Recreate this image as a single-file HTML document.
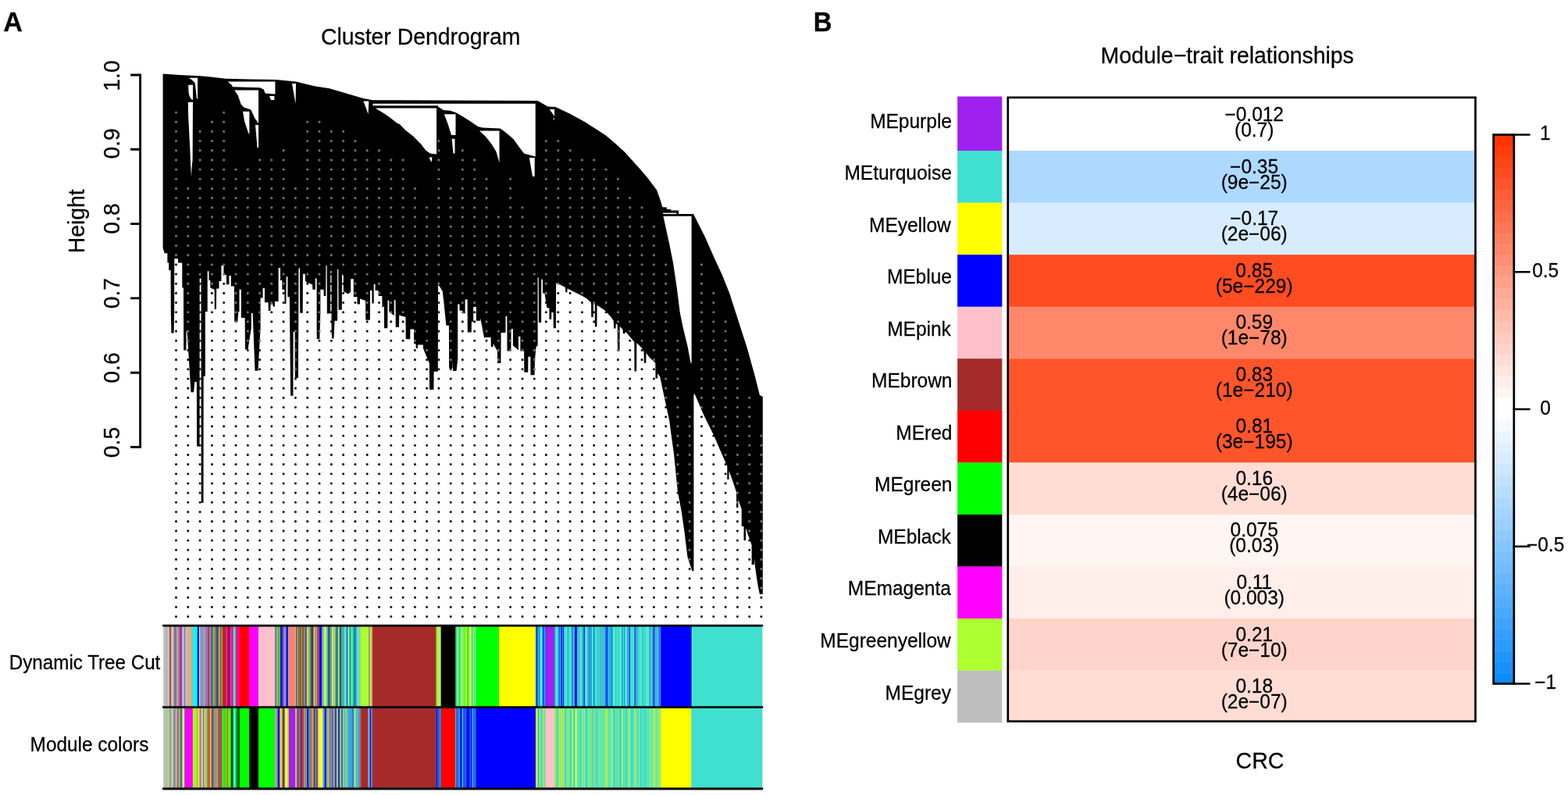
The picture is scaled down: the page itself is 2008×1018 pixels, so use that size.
<!DOCTYPE html>
<html><head><meta charset="utf-8"><title>WGCNA figure</title>
<style>html,body{margin:0;padding:0;background:#fff}svg{display:block}</style>
</head><body>
<svg width="2008" height="1018" viewBox="0 0 2008 1018" font-family='"Liberation Sans", Arial, Helvetica, sans-serif'>
<style>text{stroke:#000;stroke-width:0.25px;paint-order:stroke}</style>
<rect width="2008" height="1018" fill="#fff"/>
<text transform="translate(4.25 39.9) scale(0.975 1)" font-size="35" font-weight="bold">A</text>
<text transform="translate(410.88 57) scale(1 1.03)" font-size="28.4">Cluster Dendrogram</text>
<path d="M179.6 94.55V573.95M167.1 96H179.6M167.1 191.3H179.6M167.1 286.6H179.6M167.1 381.9H179.6M167.1 477.2H179.6M167.1 572.5H179.6" stroke="#000" stroke-width="2.9" fill="none" stroke-linecap="butt"/>
<text transform="translate(152.8 116.7) rotate(-90) scale(1 1.03)" font-size="28.3">1.0</text>
<text transform="translate(152.8 203.6) rotate(-90) scale(1 1.03)" font-size="28.3">0.9</text>
<text transform="translate(152.8 299.63) rotate(-90) scale(1 1.03)" font-size="28.3">0.8</text>
<text transform="translate(152.8 395.23) rotate(-90) scale(1 1.03)" font-size="28.3">0.7</text>
<text transform="translate(152.8 490.63) rotate(-90) scale(1 1.03)" font-size="28.3">0.6</text>
<text transform="translate(152.8 586.17) rotate(-90) scale(1 1.03)" font-size="28.3">0.5</text>
<text transform="translate(107.5 324.3) rotate(-90) scale(1 1.03)" font-size="28.4">Height</text>
<path d="M225.5 338.848h0M225.5 351.03h0M225.5 363.2h0M225.5 375.38h0M225.5 387.56h0M225.5 399.74h0M225.5 411.92h0M225.5 424.09h0M225.5 436.27h0M225.5 448.45h0M225.5 460.63h0M225.5 472.81h0M225.5 484.98h0M225.5 497.16h0M225.5 509.34h0M225.5 521.52h0M225.5 533.7h0M225.5 545.87h0M225.5 558.05h0M225.5 570.23h0M225.5 582.41h0M225.5 594.59h0M225.5 606.76h0M225.5 618.94h0M225.5 631.12h0M225.5 643.3h0M225.5 655.48h0M225.5 667.65h0M225.5 679.83h0M225.5 692.01h0M225.5 704.19h0M225.5 716.37h0M225.5 728.54h0M225.5 740.72h0M225.5 752.9h0M225.5 765.08h0M225.5 777.26h0M225.5 789.43h0M240.8 448.45h0M240.8 460.63h0M240.8 472.81h0M240.8 484.98h0M240.8 497.16h0M240.8 509.34h0M240.8 521.52h0M240.8 533.7h0M240.8 545.87h0M240.8 558.05h0M240.8 570.23h0M240.8 582.41h0M240.8 594.59h0M240.8 606.76h0M240.8 618.94h0M240.8 631.12h0M240.8 643.3h0M240.8 655.48h0M240.8 667.65h0M240.8 679.83h0M240.8 692.01h0M240.8 704.19h0M240.8 716.37h0M240.8 728.54h0M240.8 740.72h0M240.8 752.9h0M240.8 765.08h0M240.8 777.26h0M240.8 789.43h0M256.1 363.2h0M256.1 375.38h0M256.1 387.56h0M256.1 399.74h0M256.1 411.92h0M256.1 424.09h0M256.1 436.27h0M256.1 448.45h0M256.1 460.63h0M256.1 472.81h0M256.1 484.98h0M256.1 497.16h0M256.1 509.34h0M256.1 521.52h0M256.1 533.7h0M256.1 545.87h0M256.1 558.05h0M256.1 570.23h0M256.1 582.41h0M256.1 594.59h0M256.1 606.76h0M256.1 618.94h0M256.1 631.12h0M256.1 643.3h0M256.1 655.48h0M256.1 667.65h0M256.1 679.83h0M256.1 692.01h0M256.1 704.19h0M256.1 716.37h0M256.1 728.54h0M256.1 740.72h0M256.1 752.9h0M256.1 765.08h0M256.1 777.26h0M256.1 789.43h0M271.4 375.38h0M271.4 387.56h0M271.4 399.74h0M271.4 411.92h0M271.4 424.09h0M271.4 436.27h0M271.4 448.45h0M271.4 460.63h0M271.4 472.81h0M271.4 484.98h0M271.4 497.16h0M271.4 509.34h0M271.4 521.52h0M271.4 533.7h0M271.4 545.87h0M271.4 558.05h0M271.4 570.23h0M271.4 582.41h0M271.4 594.59h0M271.4 606.76h0M271.4 618.94h0M271.4 631.12h0M271.4 643.3h0M271.4 655.48h0M271.4 667.65h0M271.4 679.83h0M271.4 692.01h0M271.4 704.19h0M271.4 716.37h0M271.4 728.54h0M271.4 740.72h0M271.4 752.9h0M271.4 765.08h0M271.4 777.26h0M271.4 789.43h0M286.7 363.2h0M286.7 375.38h0M286.7 387.56h0M286.7 399.74h0M286.7 411.92h0M286.7 424.09h0M286.7 436.27h0M286.7 448.45h0M286.7 460.63h0M286.7 472.81h0M286.7 484.98h0M286.7 497.16h0M286.7 509.34h0M286.7 521.52h0M286.7 533.7h0M286.7 545.87h0M286.7 558.05h0M286.7 570.23h0M286.7 582.41h0M286.7 594.59h0M286.7 606.76h0M286.7 618.94h0M286.7 631.12h0M286.7 643.3h0M286.7 655.48h0M286.7 667.65h0M286.7 679.83h0M286.7 692.01h0M286.7 704.19h0M286.7 716.37h0M286.7 728.54h0M286.7 740.72h0M286.7 752.9h0M286.7 765.08h0M286.7 777.26h0M286.7 789.43h0M302 424.09h0M302 436.27h0M302 448.45h0M302 460.63h0M302 472.81h0M302 484.98h0M302 497.16h0M302 509.34h0M302 521.52h0M302 533.7h0M302 545.87h0M302 558.05h0M302 570.23h0M302 582.41h0M302 594.59h0M302 606.76h0M302 618.94h0M302 631.12h0M302 643.3h0M302 655.48h0M302 667.65h0M302 679.83h0M302 692.01h0M302 704.19h0M302 716.37h0M302 728.54h0M302 740.72h0M302 752.9h0M302 765.08h0M302 777.26h0M302 789.43h0M317.3 448.45h0M317.3 460.63h0M317.3 472.81h0M317.3 484.98h0M317.3 497.16h0M317.3 509.34h0M317.3 521.52h0M317.3 533.7h0M317.3 545.87h0M317.3 558.05h0M317.3 570.23h0M317.3 582.41h0M317.3 594.59h0M317.3 606.76h0M317.3 618.94h0M317.3 631.12h0M317.3 643.3h0M317.3 655.48h0M317.3 667.65h0M317.3 679.83h0M317.3 692.01h0M317.3 704.19h0M317.3 716.37h0M317.3 728.54h0M317.3 740.72h0M317.3 752.9h0M317.3 765.08h0M317.3 777.26h0M317.3 789.43h0M332.6 448.45h0M332.6 460.63h0M332.6 472.81h0M332.6 484.98h0M332.6 497.16h0M332.6 509.34h0M332.6 521.52h0M332.6 533.7h0M332.6 545.87h0M332.6 558.05h0M332.6 570.23h0M332.6 582.41h0M332.6 594.59h0M332.6 606.76h0M332.6 618.94h0M332.6 631.12h0M332.6 643.3h0M332.6 655.48h0M332.6 667.65h0M332.6 679.83h0M332.6 692.01h0M332.6 704.19h0M332.6 716.37h0M332.6 728.54h0M332.6 740.72h0M332.6 752.9h0M332.6 765.08h0M332.6 777.26h0M332.6 789.43h0M347.8 399.74h0M347.8 411.92h0M347.8 424.09h0M347.8 436.27h0M347.8 448.45h0M347.8 460.63h0M347.8 472.81h0M347.8 484.98h0M347.8 497.16h0M347.8 509.34h0M347.8 521.52h0M347.8 533.7h0M347.8 545.87h0M347.8 558.05h0M347.8 570.23h0M347.8 582.41h0M347.8 594.59h0M347.8 606.76h0M347.8 618.94h0M347.8 631.12h0M347.8 643.3h0M347.8 655.48h0M347.8 667.65h0M347.8 679.83h0M347.8 692.01h0M347.8 704.19h0M347.8 716.37h0M347.8 728.54h0M347.8 740.72h0M347.8 752.9h0M347.8 765.08h0M347.8 777.26h0M347.8 789.43h0M363.1 375.38h0M363.1 387.56h0M363.1 399.74h0M363.1 411.92h0M363.1 424.09h0M363.1 436.27h0M363.1 448.45h0M363.1 460.63h0M363.1 472.81h0M363.1 484.98h0M363.1 497.16h0M363.1 509.34h0M363.1 521.52h0M363.1 533.7h0M363.1 545.87h0M363.1 558.05h0M363.1 570.23h0M363.1 582.41h0M363.1 594.59h0M363.1 606.76h0M363.1 618.94h0M363.1 631.12h0M363.1 643.3h0M363.1 655.48h0M363.1 667.65h0M363.1 679.83h0M363.1 692.01h0M363.1 704.19h0M363.1 716.37h0M363.1 728.54h0M363.1 740.72h0M363.1 752.9h0M363.1 765.08h0M363.1 777.26h0M363.1 789.43h0M378.4 484.98h0M378.4 497.16h0M378.4 509.34h0M378.4 521.52h0M378.4 533.7h0M378.4 545.87h0M378.4 558.05h0M378.4 570.23h0M378.4 582.41h0M378.4 594.59h0M378.4 606.76h0M378.4 618.94h0M378.4 631.12h0M378.4 643.3h0M378.4 655.48h0M378.4 667.65h0M378.4 679.83h0M378.4 692.01h0M378.4 704.19h0M378.4 716.37h0M378.4 728.54h0M378.4 740.72h0M378.4 752.9h0M378.4 765.08h0M378.4 777.26h0M378.4 789.43h0M393.7 363.2h0M393.7 375.38h0M393.7 387.56h0M393.7 399.74h0M393.7 411.92h0M393.7 424.09h0M393.7 436.27h0M393.7 448.45h0M393.7 460.63h0M393.7 472.81h0M393.7 484.98h0M393.7 497.16h0M393.7 509.34h0M393.7 521.52h0M393.7 533.7h0M393.7 545.87h0M393.7 558.05h0M393.7 570.23h0M393.7 582.41h0M393.7 594.59h0M393.7 606.76h0M393.7 618.94h0M393.7 631.12h0M393.7 643.3h0M393.7 655.48h0M393.7 667.65h0M393.7 679.83h0M393.7 692.01h0M393.7 704.19h0M393.7 716.37h0M393.7 728.54h0M393.7 740.72h0M393.7 752.9h0M393.7 765.08h0M393.7 777.26h0M393.7 789.43h0M409 436.27h0M409 448.45h0M409 460.63h0M409 472.81h0M409 484.98h0M409 497.16h0M409 509.34h0M409 521.52h0M409 533.7h0M409 545.87h0M409 558.05h0M409 570.23h0M409 582.41h0M409 594.59h0M409 606.76h0M409 618.94h0M409 631.12h0M409 643.3h0M409 655.48h0M409 667.65h0M409 679.83h0M409 692.01h0M409 704.19h0M409 716.37h0M409 728.54h0M409 740.72h0M409 752.9h0M409 765.08h0M409 777.26h0M409 789.43h0M424.3 351.03h0M424.3 363.2h0M424.3 375.38h0M424.3 387.56h0M424.3 399.74h0M424.3 411.92h0M424.3 424.09h0M424.3 436.27h0M424.3 448.45h0M424.3 460.63h0M424.3 472.81h0M424.3 484.98h0M424.3 497.16h0M424.3 509.34h0M424.3 521.52h0M424.3 533.7h0M424.3 545.87h0M424.3 558.05h0M424.3 570.23h0M424.3 582.41h0M424.3 594.59h0M424.3 606.76h0M424.3 618.94h0M424.3 631.12h0M424.3 643.3h0M424.3 655.48h0M424.3 667.65h0M424.3 679.83h0M424.3 692.01h0M424.3 704.19h0M424.3 716.37h0M424.3 728.54h0M424.3 740.72h0M424.3 752.9h0M424.3 765.08h0M424.3 777.26h0M424.3 789.43h0M439.6 351.03h0M439.6 363.2h0M439.6 375.38h0M439.6 387.56h0M439.6 399.74h0M439.6 411.92h0M439.6 424.09h0M439.6 436.27h0M439.6 448.45h0M439.6 460.63h0M439.6 472.81h0M439.6 484.98h0M439.6 497.16h0M439.6 509.34h0M439.6 521.52h0M439.6 533.7h0M439.6 545.87h0M439.6 558.05h0M439.6 570.23h0M439.6 582.41h0M439.6 594.59h0M439.6 606.76h0M439.6 618.94h0M439.6 631.12h0M439.6 643.3h0M439.6 655.48h0M439.6 667.65h0M439.6 679.83h0M439.6 692.01h0M439.6 704.19h0M439.6 716.37h0M439.6 728.54h0M439.6 740.72h0M439.6 752.9h0M439.6 765.08h0M439.6 777.26h0M439.6 789.43h0M454.9 387.56h0M454.9 399.74h0M454.9 411.92h0M454.9 424.09h0M454.9 436.27h0M454.9 448.45h0M454.9 460.63h0M454.9 472.81h0M454.9 484.98h0M454.9 497.16h0M454.9 509.34h0M454.9 521.52h0M454.9 533.7h0M454.9 545.87h0M454.9 558.05h0M454.9 570.23h0M454.9 582.41h0M454.9 594.59h0M454.9 606.76h0M454.9 618.94h0M454.9 631.12h0M454.9 643.3h0M454.9 655.48h0M454.9 667.65h0M454.9 679.83h0M454.9 692.01h0M454.9 704.19h0M454.9 716.37h0M454.9 728.54h0M454.9 740.72h0M454.9 752.9h0M454.9 765.08h0M454.9 777.26h0M454.9 789.43h0M470.2 411.92h0M470.2 424.09h0M470.2 436.27h0M470.2 448.45h0M470.2 460.63h0M470.2 472.81h0M470.2 484.98h0M470.2 497.16h0M470.2 509.34h0M470.2 521.52h0M470.2 533.7h0M470.2 545.87h0M470.2 558.05h0M470.2 570.23h0M470.2 582.41h0M470.2 594.59h0M470.2 606.76h0M470.2 618.94h0M470.2 631.12h0M470.2 643.3h0M470.2 655.48h0M470.2 667.65h0M470.2 679.83h0M470.2 692.01h0M470.2 704.19h0M470.2 716.37h0M470.2 728.54h0M470.2 740.72h0M470.2 752.9h0M470.2 765.08h0M470.2 777.26h0M470.2 789.43h0M485.5 387.56h0M485.5 399.74h0M485.5 411.92h0M485.5 424.09h0M485.5 436.27h0M485.5 448.45h0M485.5 460.63h0M485.5 472.81h0M485.5 484.98h0M485.5 497.16h0M485.5 509.34h0M485.5 521.52h0M485.5 533.7h0M485.5 545.87h0M485.5 558.05h0M485.5 570.23h0M485.5 582.41h0M485.5 594.59h0M485.5 606.76h0M485.5 618.94h0M485.5 631.12h0M485.5 643.3h0M485.5 655.48h0M485.5 667.65h0M485.5 679.83h0M485.5 692.01h0M485.5 704.19h0M485.5 716.37h0M485.5 728.54h0M485.5 740.72h0M485.5 752.9h0M485.5 765.08h0M485.5 777.26h0M485.5 789.43h0M500.8 411.92h0M500.8 424.09h0M500.8 436.27h0M500.8 448.45h0M500.8 460.63h0M500.8 472.81h0M500.8 484.98h0M500.8 497.16h0M500.8 509.34h0M500.8 521.52h0M500.8 533.7h0M500.8 545.87h0M500.8 558.05h0M500.8 570.23h0M500.8 582.41h0M500.8 594.59h0M500.8 606.76h0M500.8 618.94h0M500.8 631.12h0M500.8 643.3h0M500.8 655.48h0M500.8 667.65h0M500.8 679.83h0M500.8 692.01h0M500.8 704.19h0M500.8 716.37h0M500.8 728.54h0M500.8 740.72h0M500.8 752.9h0M500.8 765.08h0M500.8 777.26h0M500.8 789.43h0M516.1 411.92h0M516.1 424.09h0M516.1 436.27h0M516.1 448.45h0M516.1 460.63h0M516.1 472.81h0M516.1 484.98h0M516.1 497.16h0M516.1 509.34h0M516.1 521.52h0M516.1 533.7h0M516.1 545.87h0M516.1 558.05h0M516.1 570.23h0M516.1 582.41h0M516.1 594.59h0M516.1 606.76h0M516.1 618.94h0M516.1 631.12h0M516.1 643.3h0M516.1 655.48h0M516.1 667.65h0M516.1 679.83h0M516.1 692.01h0M516.1 704.19h0M516.1 716.37h0M516.1 728.54h0M516.1 740.72h0M516.1 752.9h0M516.1 765.08h0M516.1 777.26h0M516.1 789.43h0M531.4 448.45h0M531.4 460.63h0M531.4 472.81h0M531.4 484.98h0M531.4 497.16h0M531.4 509.34h0M531.4 521.52h0M531.4 533.7h0M531.4 545.87h0M531.4 558.05h0M531.4 570.23h0M531.4 582.41h0M531.4 594.59h0M531.4 606.76h0M531.4 618.94h0M531.4 631.12h0M531.4 643.3h0M531.4 655.48h0M531.4 667.65h0M531.4 679.83h0M531.4 692.01h0M531.4 704.19h0M531.4 716.37h0M531.4 728.54h0M531.4 740.72h0M531.4 752.9h0M531.4 765.08h0M531.4 777.26h0M531.4 789.43h0M546.6 460.63h0M546.6 472.81h0M546.6 484.98h0M546.6 497.16h0M546.6 509.34h0M546.6 521.52h0M546.6 533.7h0M546.6 545.87h0M546.6 558.05h0M546.6 570.23h0M546.6 582.41h0M546.6 594.59h0M546.6 606.76h0M546.6 618.94h0M546.6 631.12h0M546.6 643.3h0M546.6 655.48h0M546.6 667.65h0M546.6 679.83h0M546.6 692.01h0M546.6 704.19h0M546.6 716.37h0M546.6 728.54h0M546.6 740.72h0M546.6 752.9h0M546.6 765.08h0M546.6 777.26h0M546.6 789.43h0M561.9 375.38h0M561.9 387.56h0M561.9 399.74h0M561.9 411.92h0M561.9 424.09h0M561.9 436.27h0M561.9 448.45h0M561.9 460.63h0M561.9 472.81h0M561.9 484.98h0M561.9 497.16h0M561.9 509.34h0M561.9 521.52h0M561.9 533.7h0M561.9 545.87h0M561.9 558.05h0M561.9 570.23h0M561.9 582.41h0M561.9 594.59h0M561.9 606.76h0M561.9 618.94h0M561.9 631.12h0M561.9 643.3h0M561.9 655.48h0M561.9 667.65h0M561.9 679.83h0M561.9 692.01h0M561.9 704.19h0M561.9 716.37h0M561.9 728.54h0M561.9 740.72h0M561.9 752.9h0M561.9 765.08h0M561.9 777.26h0M561.9 789.43h0M577.2 472.81h0M577.2 484.98h0M577.2 497.16h0M577.2 509.34h0M577.2 521.52h0M577.2 533.7h0M577.2 545.87h0M577.2 558.05h0M577.2 570.23h0M577.2 582.41h0M577.2 594.59h0M577.2 606.76h0M577.2 618.94h0M577.2 631.12h0M577.2 643.3h0M577.2 655.48h0M577.2 667.65h0M577.2 679.83h0M577.2 692.01h0M577.2 704.19h0M577.2 716.37h0M577.2 728.54h0M577.2 740.72h0M577.2 752.9h0M577.2 765.08h0M577.2 777.26h0M577.2 789.43h0M592.3 411.92h0M592.3 424.09h0M592.3 436.27h0M592.3 448.45h0M592.3 460.63h0M592.3 472.81h0M592.3 484.98h0M592.3 497.16h0M592.3 509.34h0M592.3 521.52h0M592.3 533.7h0M592.3 545.87h0M592.3 558.05h0M592.3 570.23h0M592.3 582.41h0M592.3 594.59h0M592.3 606.76h0M592.3 618.94h0M592.3 631.12h0M592.3 643.3h0M592.3 655.48h0M592.3 667.65h0M592.3 679.83h0M592.3 692.01h0M592.3 704.19h0M592.3 716.37h0M592.3 728.54h0M592.3 740.72h0M592.3 752.9h0M592.3 765.08h0M592.3 777.26h0M592.3 789.43h0M607.7 399.74h0M607.7 411.92h0M607.7 424.09h0M607.7 436.27h0M607.7 448.45h0M607.7 460.63h0M607.7 472.81h0M607.7 484.98h0M607.7 497.16h0M607.7 509.34h0M607.7 521.52h0M607.7 533.7h0M607.7 545.87h0M607.7 558.05h0M607.7 570.23h0M607.7 582.41h0M607.7 594.59h0M607.7 606.76h0M607.7 618.94h0M607.7 631.12h0M607.7 643.3h0M607.7 655.48h0M607.7 667.65h0M607.7 679.83h0M607.7 692.01h0M607.7 704.19h0M607.7 716.37h0M607.7 728.54h0M607.7 740.72h0M607.7 752.9h0M607.7 765.08h0M607.7 777.26h0M607.7 789.43h0M623 436.27h0M623 448.45h0M623 460.63h0M623 472.81h0M623 484.98h0M623 497.16h0M623 509.34h0M623 521.52h0M623 533.7h0M623 545.87h0M623 558.05h0M623 570.23h0M623 582.41h0M623 594.59h0M623 606.76h0M623 618.94h0M623 631.12h0M623 643.3h0M623 655.48h0M623 667.65h0M623 679.83h0M623 692.01h0M623 704.19h0M623 716.37h0M623 728.54h0M623 740.72h0M623 752.9h0M623 765.08h0M623 777.26h0M623 789.43h0M638.3 472.81h0M638.3 484.98h0M638.3 497.16h0M638.3 509.34h0M638.3 521.52h0M638.3 533.7h0M638.3 545.87h0M638.3 558.05h0M638.3 570.23h0M638.3 582.41h0M638.3 594.59h0M638.3 606.76h0M638.3 618.94h0M638.3 631.12h0M638.3 643.3h0M638.3 655.48h0M638.3 667.65h0M638.3 679.83h0M638.3 692.01h0M638.3 704.19h0M638.3 716.37h0M638.3 728.54h0M638.3 740.72h0M638.3 752.9h0M638.3 765.08h0M638.3 777.26h0M638.3 789.43h0M653.6 460.63h0M653.6 472.81h0M653.6 484.98h0M653.6 497.16h0M653.6 509.34h0M653.6 521.52h0M653.6 533.7h0M653.6 545.87h0M653.6 558.05h0M653.6 570.23h0M653.6 582.41h0M653.6 594.59h0M653.6 606.76h0M653.6 618.94h0M653.6 631.12h0M653.6 643.3h0M653.6 655.48h0M653.6 667.65h0M653.6 679.83h0M653.6 692.01h0M653.6 704.19h0M653.6 716.37h0M653.6 728.54h0M653.6 740.72h0M653.6 752.9h0M653.6 765.08h0M653.6 777.26h0M653.6 789.43h0M669 460.63h0M669 472.81h0M669 484.98h0M669 497.16h0M669 509.34h0M669 521.52h0M669 533.7h0M669 545.87h0M669 558.05h0M669 570.23h0M669 582.41h0M669 594.59h0M669 606.76h0M669 618.94h0M669 631.12h0M669 643.3h0M669 655.48h0M669 667.65h0M669 679.83h0M669 692.01h0M669 704.19h0M669 716.37h0M669 728.54h0M669 740.72h0M669 752.9h0M669 765.08h0M669 777.26h0M669 789.43h0M684.3 484.98h0M684.3 497.16h0M684.3 509.34h0M684.3 521.52h0M684.3 533.7h0M684.3 545.87h0M684.3 558.05h0M684.3 570.23h0M684.3 582.41h0M684.3 594.59h0M684.3 606.76h0M684.3 618.94h0M684.3 631.12h0M684.3 643.3h0M684.3 655.48h0M684.3 667.65h0M684.3 679.83h0M684.3 692.01h0M684.3 704.19h0M684.3 716.37h0M684.3 728.54h0M684.3 740.72h0M684.3 752.9h0M684.3 765.08h0M684.3 777.26h0M684.3 789.43h0M699.3 387.56h0M699.3 399.74h0M699.3 411.92h0M699.3 424.09h0M699.3 436.27h0M699.3 448.45h0M699.3 460.63h0M699.3 472.81h0M699.3 484.98h0M699.3 497.16h0M699.3 509.34h0M699.3 521.52h0M699.3 533.7h0M699.3 545.87h0M699.3 558.05h0M699.3 570.23h0M699.3 582.41h0M699.3 594.59h0M699.3 606.76h0M699.3 618.94h0M699.3 631.12h0M699.3 643.3h0M699.3 655.48h0M699.3 667.65h0M699.3 679.83h0M699.3 692.01h0M699.3 704.19h0M699.3 716.37h0M699.3 728.54h0M699.3 740.72h0M699.3 752.9h0M699.3 765.08h0M699.3 777.26h0M699.3 789.43h0M714.8 375.38h0M714.8 387.56h0M714.8 399.74h0M714.8 411.92h0M714.8 424.09h0M714.8 436.27h0M714.8 448.45h0M714.8 460.63h0M714.8 472.81h0M714.8 484.98h0M714.8 497.16h0M714.8 509.34h0M714.8 521.52h0M714.8 533.7h0M714.8 545.87h0M714.8 558.05h0M714.8 570.23h0M714.8 582.41h0M714.8 594.59h0M714.8 606.76h0M714.8 618.94h0M714.8 631.12h0M714.8 643.3h0M714.8 655.48h0M714.8 667.65h0M714.8 679.83h0M714.8 692.01h0M714.8 704.19h0M714.8 716.37h0M714.8 728.54h0M714.8 740.72h0M714.8 752.9h0M714.8 765.08h0M714.8 777.26h0M714.8 789.43h0M730.1 375.38h0M730.1 387.56h0M730.1 399.74h0M730.1 411.92h0M730.1 424.09h0M730.1 436.27h0M730.1 448.45h0M730.1 460.63h0M730.1 472.81h0M730.1 484.98h0M730.1 497.16h0M730.1 509.34h0M730.1 521.52h0M730.1 533.7h0M730.1 545.87h0M730.1 558.05h0M730.1 570.23h0M730.1 582.41h0M730.1 594.59h0M730.1 606.76h0M730.1 618.94h0M730.1 631.12h0M730.1 643.3h0M730.1 655.48h0M730.1 667.65h0M730.1 679.83h0M730.1 692.01h0M730.1 704.19h0M730.1 716.37h0M730.1 728.54h0M730.1 740.72h0M730.1 752.9h0M730.1 765.08h0M730.1 777.26h0M730.1 789.43h0M745.4 387.56h0M745.4 399.74h0M745.4 411.92h0M745.4 424.09h0M745.4 436.27h0M745.4 448.45h0M745.4 460.63h0M745.4 472.81h0M745.4 484.98h0M745.4 497.16h0M745.4 509.34h0M745.4 521.52h0M745.4 533.7h0M745.4 545.87h0M745.4 558.05h0M745.4 570.23h0M745.4 582.41h0M745.4 594.59h0M745.4 606.76h0M745.4 618.94h0M745.4 631.12h0M745.4 643.3h0M745.4 655.48h0M745.4 667.65h0M745.4 679.83h0M745.4 692.01h0M745.4 704.19h0M745.4 716.37h0M745.4 728.54h0M745.4 740.72h0M745.4 752.9h0M745.4 765.08h0M745.4 777.26h0M745.4 789.43h0M760.7 399.74h0M760.7 411.92h0M760.7 424.09h0M760.7 436.27h0M760.7 448.45h0M760.7 460.63h0M760.7 472.81h0M760.7 484.98h0M760.7 497.16h0M760.7 509.34h0M760.7 521.52h0M760.7 533.7h0M760.7 545.87h0M760.7 558.05h0M760.7 570.23h0M760.7 582.41h0M760.7 594.59h0M760.7 606.76h0M760.7 618.94h0M760.7 631.12h0M760.7 643.3h0M760.7 655.48h0M760.7 667.65h0M760.7 679.83h0M760.7 692.01h0M760.7 704.19h0M760.7 716.37h0M760.7 728.54h0M760.7 740.72h0M760.7 752.9h0M760.7 765.08h0M760.7 777.26h0M760.7 789.43h0M776.1 399.74h0M776.1 411.92h0M776.1 424.09h0M776.1 436.27h0M776.1 448.45h0M776.1 460.63h0M776.1 472.81h0M776.1 484.98h0M776.1 497.16h0M776.1 509.34h0M776.1 521.52h0M776.1 533.7h0M776.1 545.87h0M776.1 558.05h0M776.1 570.23h0M776.1 582.41h0M776.1 594.59h0M776.1 606.76h0M776.1 618.94h0M776.1 631.12h0M776.1 643.3h0M776.1 655.48h0M776.1 667.65h0M776.1 679.83h0M776.1 692.01h0M776.1 704.19h0M776.1 716.37h0M776.1 728.54h0M776.1 740.72h0M776.1 752.9h0M776.1 765.08h0M776.1 777.26h0M776.1 789.43h0M791.4 460.63h0M791.4 472.81h0M791.4 484.98h0M791.4 497.16h0M791.4 509.34h0M791.4 521.52h0M791.4 533.7h0M791.4 545.87h0M791.4 558.05h0M791.4 570.23h0M791.4 582.41h0M791.4 594.59h0M791.4 606.76h0M791.4 618.94h0M791.4 631.12h0M791.4 643.3h0M791.4 655.48h0M791.4 667.65h0M791.4 679.83h0M791.4 692.01h0M791.4 704.19h0M791.4 716.37h0M791.4 728.54h0M791.4 740.72h0M791.4 752.9h0M791.4 765.08h0M791.4 777.26h0M791.4 789.43h0M806.7 436.27h0M806.7 448.45h0M806.7 460.63h0M806.7 472.81h0M806.7 484.98h0M806.7 497.16h0M806.7 509.34h0M806.7 521.52h0M806.7 533.7h0M806.7 545.87h0M806.7 558.05h0M806.7 570.23h0M806.7 582.41h0M806.7 594.59h0M806.7 606.76h0M806.7 618.94h0M806.7 631.12h0M806.7 643.3h0M806.7 655.48h0M806.7 667.65h0M806.7 679.83h0M806.7 692.01h0M806.7 704.19h0M806.7 716.37h0M806.7 728.54h0M806.7 740.72h0M806.7 752.9h0M806.7 765.08h0M806.7 777.26h0M806.7 789.43h0M822 448.45h0M822 460.63h0M822 472.81h0M822 484.98h0M822 497.16h0M822 509.34h0M822 521.52h0M822 533.7h0M822 545.87h0M822 558.05h0M822 570.23h0M822 582.41h0M822 594.59h0M822 606.76h0M822 618.94h0M822 631.12h0M822 643.3h0M822 655.48h0M822 667.65h0M822 679.83h0M822 692.01h0M822 704.19h0M822 716.37h0M822 728.54h0M822 740.72h0M822 752.9h0M822 765.08h0M822 777.26h0M822 789.43h0M837.4 472.81h0M837.4 484.98h0M837.4 497.16h0M837.4 509.34h0M837.4 521.52h0M837.4 533.7h0M837.4 545.87h0M837.4 558.05h0M837.4 570.23h0M837.4 582.41h0M837.4 594.59h0M837.4 606.76h0M837.4 618.94h0M837.4 631.12h0M837.4 643.3h0M837.4 655.48h0M837.4 667.65h0M837.4 679.83h0M837.4 692.01h0M837.4 704.19h0M837.4 716.37h0M837.4 728.54h0M837.4 740.72h0M837.4 752.9h0M837.4 765.08h0M837.4 777.26h0M837.4 789.43h0M852.7 521.52h0M852.7 533.7h0M852.7 545.87h0M852.7 558.05h0M852.7 570.23h0M852.7 582.41h0M852.7 594.59h0M852.7 606.76h0M852.7 618.94h0M852.7 631.12h0M852.7 643.3h0M852.7 655.48h0M852.7 667.65h0M852.7 679.83h0M852.7 692.01h0M852.7 704.19h0M852.7 716.37h0M852.7 728.54h0M852.7 740.72h0M852.7 752.9h0M852.7 765.08h0M852.7 777.26h0M852.7 789.43h0M867.9 631.12h0M867.9 643.3h0M867.9 655.48h0M867.9 667.65h0M867.9 679.83h0M867.9 692.01h0M867.9 704.19h0M867.9 716.37h0M867.9 728.54h0M867.9 740.72h0M867.9 752.9h0M867.9 765.08h0M867.9 777.26h0M867.9 789.43h0M883.1 728.54h0M883.1 740.72h0M883.1 752.9h0M883.1 765.08h0M883.1 777.26h0M883.1 789.43h0M898.4 533.7h0M898.4 545.87h0M898.4 558.05h0M898.4 570.23h0M898.4 582.41h0M898.4 594.59h0M898.4 606.76h0M898.4 618.94h0M898.4 631.12h0M898.4 643.3h0M898.4 655.48h0M898.4 667.65h0M898.4 679.83h0M898.4 692.01h0M898.4 704.19h0M898.4 716.37h0M898.4 728.54h0M898.4 740.72h0M898.4 752.9h0M898.4 765.08h0M898.4 777.26h0M898.4 789.43h0M913.8 558.05h0M913.8 570.23h0M913.8 582.41h0M913.8 594.59h0M913.8 606.76h0M913.8 618.94h0M913.8 631.12h0M913.8 643.3h0M913.8 655.48h0M913.8 667.65h0M913.8 679.83h0M913.8 692.01h0M913.8 704.19h0M913.8 716.37h0M913.8 728.54h0M913.8 740.72h0M913.8 752.9h0M913.8 765.08h0M913.8 777.26h0M913.8 789.43h0M929.1 594.59h0M929.1 606.76h0M929.1 618.94h0M929.1 631.12h0M929.1 643.3h0M929.1 655.48h0M929.1 667.65h0M929.1 679.83h0M929.1 692.01h0M929.1 704.19h0M929.1 716.37h0M929.1 728.54h0M929.1 740.72h0M929.1 752.9h0M929.1 765.08h0M929.1 777.26h0M929.1 789.43h0M944.4 655.48h0M944.4 667.65h0M944.4 679.83h0M944.4 692.01h0M944.4 704.19h0M944.4 716.37h0M944.4 728.54h0M944.4 740.72h0M944.4 752.9h0M944.4 765.08h0M944.4 777.26h0M944.4 789.43h0M959.7 692.01h0M959.7 704.19h0M959.7 716.37h0M959.7 728.54h0M959.7 740.72h0M959.7 752.9h0M959.7 765.08h0M959.7 777.26h0M959.7 789.43h0M974.9 765.08h0M974.9 777.26h0M974.9 789.43h0" stroke="#111" stroke-width="3.1" stroke-linecap="round" fill="none"/>
<polygon points="208.6,317 208.6,94.6 230,96.1 256.2,97.3 270,98.4 289.4,100.8 320,101.4 353.4,102.1 379,104.5 402.5,110.3 422,113.3 445.7,120.2 465.4,126.1 477.2,128.2 688.6,128.9 701.6,136.5 711.4,137.1 729,145.3 748.8,156.1 764.5,166 776.3,173.8 788,183.7 799.8,194.5 817.5,214.1 829.3,227.8 841.1,243.6 846,257.3 848.3,265.3 853.8,265.5 853.8,267.9 859.3,267.9 859.3,269.6 869.1,269.6 869.1,274.1 888,274.1 902.9,303.4 913.9,328.6 924.9,352.2 934.3,375.8 945.3,410 957.2,447 967,482.5 972.9,506 976.8,508 976.8,760.7 972.9,760.7 971,752 969,740 967,725.4 965.9,715 965.9,723 962.6,723 962.6,698 958,685 955,676 955,692 952.5,692 952.5,674 949.7,674 949.7,652 945.4,640 945.4,650 943,650 943,630 938,615 933.5,603 933.5,614 931.3,614 931.3,597 929,592 923.8,580 914,557.2 902.2,533.6 889.4,504 888.4,506 888.4,731.3 886.4,731.3 880.5,713.6 876.6,682 872.7,654.7 867.8,629 862.9,580 861,567 857,537.5 851,510 845.2,482.5 842.2,478 842,484.5 839.5,484.5 839.3,464.8 832,458 827.5,452 827.3,464.8 824.8,464.8 824.6,451 822.2,446 815.3,439 815.1,475.4 812.5,475.4 812.3,438 802.5,426.3 800.6,425 800.4,427.3 797.8,427.3 797.6,422 793.7,418 793.5,449.8 790.9,449.8 790.7,416 788.8,414 788.6,420.4 786,420.4 785.8,411 782.9,406.6 775,397.8 764.6,390.7 764.4,418.4 761.9,418.4 761.7,389.5 760,388.5 759.8,406 757.2,406 757,387 755.2,386 751.7,382.5 745.8,378.9 736.3,374.2 726.6,369.5 726.4,374.2 724.2,374.2 724,368 715.1,363.6 712.1,362.4 711.9,420.2 708.8,420.2 708.6,400.1 706.3,400.1 706.1,409 703.5,409 703.3,394.2 700.4,394.2 697.4,375.4 695,375.4 695,357.7 693.3,357.7 693.1,413.1 689.9,413.1 689.7,355.3 688.6,355.3 688.6,442.6 686.6,444 685,460 684.5,480.3 679.5,480.3 679.3,456.7 676.4,456.7 676.2,476.7 671.3,476.7 671.1,449.6 666.4,449.6 666.4,430.8 664,430.8 664,448.4 656.9,442.5 656.9,421.3 654.6,421.3 654.4,449.6 649.5,449.6 649.3,404.8 647.5,404.8 647.5,426 641.6,426 641.4,465 637.1,465 636.9,449.6 631.6,440 631.4,444.3 628.8,444.3 628.6,432 620.4,432 620.4,434.3 615.1,407 615.1,410.7 609.8,410.7 609.8,393 606.2,393 606.2,411.9 603.9,411.9 603.7,425.4 598.8,425.4 598.6,383.6 595.6,383.6 595.6,401.3 592.1,401.3 592.1,397.7 588.5,397.7 588.5,389.5 586.2,389.5 586.2,460 584.5,475 580.2,475 579.8,460 579.6,471.8 575.1,471.8 574.9,416.7 571.4,416.7 570.2,404.9 568.4,387.2 566.7,373 563.1,367.1 561,364.8 560.8,475.7 555.6,475.7 555.4,499 550,499 549.8,465.3 541.9,446 541.9,441.4 535,441.4 534.9,446.1 532.7,446.1 532.5,440.2 530.1,440.2 530.1,421.4 525.4,421.4 525.2,434.3 519.7,434.3 519.5,406 511.2,403.7 511,419 506.7,419 506.5,384.2 504.7,384.2 504.7,404.3 498.3,399 498.3,384.8 496.5,384.8 496.3,420.2 492,420.2 491.8,391.9 489.5,394 489.3,379 484.6,379 484.6,372 480.5,372 480.5,363.7 478.7,363.7 478.7,388.4 476.4,388.4 476.4,372 474,372 473.8,409.7 468.3,409.7 468.1,385 461,382.5 461,389.6 457.5,389.6 457.5,380.2 452.8,380.2 452.8,357.2 449.2,357.2 449.2,373 447,376 444.5,376 444,375.5 439.8,373 439.8,350 438,350 437.8,396.7 433.5,396.7 433.3,344.8 432.1,344.8 432.1,410.8 428.5,410.8 427.5,433.6 425,433.6 424.5,420 424.5,347 423.3,347 423.1,401.4 418.8,401.4 418.6,340 417.4,340 417.2,379 414.7,379 414.5,370.8 410.3,370.8 410.3,400 409.3,434.2 405.8,434.2 405.6,420 405.6,356.6 403.8,356.6 403.8,370.8 400.3,370.8 400,364.3 392,361.3 392,360 390.8,360 390.8,350.7 387.9,350.7 387.7,400.8 384.2,400.8 384,343.6 382.5,343.6 382.3,400 381.9,484.1 377.8,484.1 377.6,425 375.6,425 375.4,506.8 372.1,506.8 371.5,450 370.8,380.2 368.4,380.2 368.4,354.2 366.6,354.2 366.4,389 364.5,389 364.3,370.8 361.3,370.8 361.3,359 359,359 359,343 356.6,343 356.6,386 351.9,386 351.9,392.6 349.5,392.6 349.5,389.6 346.6,389.6 346.4,397.9 343.8,397.9 343.6,387.3 338.9,387.3 338.9,369 336.6,369 336.6,381.4 333.6,381.4 333.6,420 330.5,474.8 326.5,474.8 323.6,401 321.8,401 321.8,420 317.5,447.4 314,447.4 313.6,407 308.8,407 308.8,370.8 306.5,370.8 306.5,399 305.3,399 304.3,412 300.2,412 299.9,366.6 295.8,366.6 295.8,353 293.4,353 293.4,364.3 289.9,364.3 289.9,351.9 286.4,351.9 286.4,340 283.4,340 283.4,360.1 280.5,360.1 280.5,369.6 277.2,369.6 276.9,396.1 274.8,396.1 274.6,370.8 269.3,368.4 269.3,359 267.5,359 267.5,347.2 265.7,347.2 265.7,399 262.8,399 262.8,481.7 260.7,481.7 260.5,644 257.7,644 257.5,356.6 255.7,356.6 255.6,571.6 252.1,571.6 251.9,489 249.3,489 248.1,502.3 244.5,502.3 239.6,424 238.6,424 238.4,448.4 235.2,448.4 235,368.4 233.3,368.4 233.3,336.6 228,336.6 228,331.2 223.3,331.2 223.2,400 222.6,426.4 219.4,426.4 218.8,400 218.6,346 216.2,346 216.2,336.6 214.4,336.6 214.4,324.2 210.3,324.2 210.3,322.4 208.6,317.7" fill="#000"/>
<path d="M225.5 144h0M225.5 156.18h0M225.5 168.36h0M225.5 180.53h0M225.5 192.71h0M225.5 204.89h0M225.5 217.07h0M225.5 229.25h0M225.5 241.42h0M225.5 253.6h0M225.5 265.78h0M225.5 277.96h0M225.5 290.14h0M225.5 302.31h0M225.5 314.49h0M225.5 326.67h0M240.8 241.42h0M240.8 253.6h0M240.8 265.78h0M240.8 277.96h0M240.8 290.14h0M240.8 302.31h0M240.8 314.49h0M240.8 326.67h0M240.8 338.85h0M240.8 351.03h0M240.8 363.2h0M240.8 375.38h0M240.8 387.56h0M240.8 399.74h0M240.8 411.92h0M240.8 424.09h0M240.8 436.27h0M256.1 168.36h0M256.1 180.53h0M256.1 192.71h0M256.1 204.89h0M256.1 217.07h0M256.1 229.25h0M256.1 241.42h0M256.1 253.6h0M256.1 265.78h0M256.1 277.96h0M256.1 290.14h0M256.1 302.31h0M256.1 314.49h0M256.1 326.67h0M256.1 338.85h0M256.1 351.03h0M271.4 156.18h0M271.4 168.36h0M271.4 180.53h0M271.4 192.71h0M271.4 204.89h0M271.4 217.07h0M271.4 229.25h0M271.4 241.42h0M271.4 253.6h0M271.4 265.78h0M271.4 277.96h0M271.4 290.14h0M271.4 302.31h0M271.4 314.49h0M271.4 326.67h0M271.4 338.85h0M271.4 351.03h0M271.4 363.2h0M286.7 144h0M286.7 156.18h0M286.7 168.36h0M286.7 180.53h0M286.7 192.71h0M286.7 204.89h0M286.7 217.07h0M286.7 229.25h0M286.7 241.42h0M286.7 253.6h0M286.7 265.78h0M286.7 277.96h0M286.7 290.14h0M286.7 302.31h0M286.7 314.49h0M286.7 326.67h0M286.7 338.85h0M286.7 351.03h0M302 217.07h0M302 229.25h0M302 241.42h0M302 253.6h0M302 265.78h0M302 277.96h0M302 290.14h0M302 302.31h0M302 314.49h0M302 326.67h0M302 338.85h0M302 351.03h0M302 363.2h0M302 375.38h0M302 387.56h0M302 399.74h0M302 411.92h0M317.3 217.07h0M317.3 229.25h0M317.3 241.42h0M317.3 253.6h0M317.3 265.78h0M317.3 277.96h0M317.3 290.14h0M317.3 302.31h0M317.3 314.49h0M317.3 326.67h0M317.3 338.85h0M317.3 351.03h0M317.3 363.2h0M317.3 375.38h0M317.3 387.56h0M317.3 399.74h0M317.3 411.92h0M317.3 424.09h0M317.3 436.27h0M332.6 204.89h0M332.6 217.07h0M332.6 229.25h0M332.6 241.42h0M332.6 253.6h0M332.6 265.78h0M332.6 277.96h0M332.6 290.14h0M332.6 302.31h0M332.6 314.49h0M332.6 326.67h0M332.6 338.85h0M332.6 351.03h0M332.6 363.2h0M332.6 375.38h0M332.6 387.56h0M332.6 399.74h0M332.6 411.92h0M332.6 424.09h0M332.6 436.27h0M347.8 204.89h0M347.8 217.07h0M347.8 229.25h0M347.8 241.42h0M347.8 253.6h0M347.8 265.78h0M347.8 277.96h0M347.8 290.14h0M347.8 302.31h0M347.8 314.49h0M347.8 326.67h0M347.8 338.85h0M347.8 351.03h0M347.8 363.2h0M347.8 375.38h0M347.8 387.56h0M363.1 192.71h0M363.1 204.89h0M363.1 217.07h0M363.1 229.25h0M363.1 241.42h0M363.1 253.6h0M363.1 265.78h0M363.1 277.96h0M363.1 290.14h0M363.1 302.31h0M363.1 314.49h0M363.1 326.67h0M363.1 338.85h0M363.1 351.03h0M363.1 363.2h0M378.4 241.42h0M378.4 253.6h0M378.4 265.78h0M378.4 277.96h0M378.4 290.14h0M378.4 302.31h0M378.4 314.49h0M378.4 326.67h0M378.4 338.85h0M378.4 351.03h0M378.4 363.2h0M378.4 375.38h0M378.4 387.56h0M378.4 399.74h0M378.4 411.92h0M378.4 424.09h0M378.4 436.27h0M378.4 448.45h0M378.4 460.63h0M378.4 472.81h0M393.7 156.18h0M393.7 168.36h0M393.7 180.53h0M393.7 192.71h0M393.7 204.89h0M393.7 217.07h0M393.7 229.25h0M393.7 241.42h0M393.7 253.6h0M393.7 265.78h0M393.7 277.96h0M393.7 290.14h0M393.7 302.31h0M393.7 314.49h0M393.7 326.67h0M393.7 338.85h0M393.7 351.03h0M409 156.18h0M409 168.36h0M409 180.53h0M409 192.71h0M409 204.89h0M409 217.07h0M409 229.25h0M409 241.42h0M409 253.6h0M409 265.78h0M409 277.96h0M409 290.14h0M409 302.31h0M409 314.49h0M409 326.67h0M409 338.85h0M409 351.03h0M409 363.2h0M409 375.38h0M409 387.56h0M409 399.74h0M409 411.92h0M409 424.09h0M424.3 168.36h0M424.3 180.53h0M424.3 192.71h0M424.3 204.89h0M424.3 217.07h0M424.3 229.25h0M424.3 241.42h0M424.3 253.6h0M424.3 265.78h0M424.3 277.96h0M424.3 290.14h0M424.3 302.31h0M424.3 314.49h0M424.3 326.67h0M424.3 338.85h0M439.6 168.36h0M439.6 180.53h0M439.6 192.71h0M439.6 204.89h0M439.6 217.07h0M439.6 229.25h0M439.6 241.42h0M439.6 253.6h0M439.6 265.78h0M439.6 277.96h0M439.6 290.14h0M439.6 302.31h0M439.6 314.49h0M439.6 326.67h0M439.6 338.85h0M454.9 180.53h0M454.9 192.71h0M454.9 204.89h0M454.9 217.07h0M454.9 229.25h0M454.9 241.42h0M454.9 253.6h0M454.9 265.78h0M454.9 277.96h0M454.9 290.14h0M454.9 302.31h0M454.9 314.49h0M454.9 326.67h0M454.9 338.85h0M454.9 351.03h0M454.9 363.2h0M454.9 375.38h0M470.2 192.71h0M470.2 204.89h0M470.2 217.07h0M470.2 229.25h0M470.2 241.42h0M470.2 253.6h0M470.2 265.78h0M470.2 277.96h0M470.2 290.14h0M470.2 302.31h0M470.2 314.49h0M470.2 326.67h0M470.2 338.85h0M470.2 351.03h0M470.2 363.2h0M470.2 375.38h0M470.2 387.56h0M470.2 399.74h0M485.5 192.71h0M485.5 204.89h0M485.5 217.07h0M485.5 229.25h0M485.5 241.42h0M485.5 253.6h0M485.5 265.78h0M485.5 277.96h0M485.5 290.14h0M485.5 302.31h0M485.5 314.49h0M485.5 326.67h0M485.5 338.85h0M485.5 351.03h0M485.5 363.2h0M485.5 375.38h0M500.8 204.89h0M500.8 217.07h0M500.8 229.25h0M500.8 241.42h0M500.8 253.6h0M500.8 265.78h0M500.8 277.96h0M500.8 290.14h0M500.8 302.31h0M500.8 314.49h0M500.8 326.67h0M500.8 338.85h0M500.8 351.03h0M500.8 363.2h0M500.8 375.38h0M500.8 387.56h0M500.8 399.74h0M516.1 204.89h0M516.1 217.07h0M516.1 229.25h0M516.1 241.42h0M516.1 253.6h0M516.1 265.78h0M516.1 277.96h0M516.1 290.14h0M516.1 302.31h0M516.1 314.49h0M516.1 326.67h0M516.1 338.85h0M516.1 351.03h0M516.1 363.2h0M516.1 375.38h0M516.1 387.56h0M516.1 399.74h0M531.4 241.42h0M531.4 253.6h0M531.4 265.78h0M531.4 277.96h0M531.4 290.14h0M531.4 302.31h0M531.4 314.49h0M531.4 326.67h0M531.4 338.85h0M531.4 351.03h0M531.4 363.2h0M531.4 375.38h0M531.4 387.56h0M531.4 399.74h0M531.4 411.92h0M531.4 424.09h0M531.4 436.27h0M546.6 265.78h0M546.6 277.96h0M546.6 290.14h0M546.6 302.31h0M546.6 314.49h0M546.6 326.67h0M546.6 338.85h0M546.6 351.03h0M546.6 363.2h0M546.6 375.38h0M546.6 387.56h0M546.6 399.74h0M546.6 411.92h0M546.6 424.09h0M546.6 436.27h0M546.6 448.45h0M561.9 180.53h0M561.9 192.71h0M561.9 204.89h0M561.9 217.07h0M561.9 229.25h0M561.9 241.42h0M561.9 253.6h0M561.9 265.78h0M561.9 277.96h0M561.9 290.14h0M561.9 302.31h0M561.9 314.49h0M561.9 326.67h0M561.9 338.85h0M561.9 351.03h0M561.9 363.2h0M577.2 241.42h0M577.2 253.6h0M577.2 265.78h0M577.2 277.96h0M577.2 290.14h0M577.2 302.31h0M577.2 314.49h0M577.2 326.67h0M577.2 338.85h0M577.2 351.03h0M577.2 363.2h0M577.2 375.38h0M577.2 387.56h0M577.2 399.74h0M577.2 411.92h0M577.2 424.09h0M577.2 436.27h0M577.2 448.45h0M577.2 460.63h0M592.3 192.71h0M592.3 204.89h0M592.3 217.07h0M592.3 229.25h0M592.3 241.42h0M592.3 253.6h0M592.3 265.78h0M592.3 277.96h0M592.3 290.14h0M592.3 302.31h0M592.3 314.49h0M592.3 326.67h0M592.3 338.85h0M592.3 351.03h0M592.3 363.2h0M592.3 375.38h0M592.3 387.56h0M592.3 399.74h0M607.7 204.89h0M607.7 217.07h0M607.7 229.25h0M607.7 241.42h0M607.7 253.6h0M607.7 265.78h0M607.7 277.96h0M607.7 290.14h0M607.7 302.31h0M607.7 314.49h0M607.7 326.67h0M607.7 338.85h0M607.7 351.03h0M607.7 363.2h0M607.7 375.38h0M607.7 387.56h0M623 229.25h0M623 241.42h0M623 253.6h0M623 265.78h0M623 277.96h0M623 290.14h0M623 302.31h0M623 314.49h0M623 326.67h0M623 338.85h0M623 351.03h0M623 363.2h0M623 375.38h0M623 387.56h0M623 399.74h0M623 411.92h0M623 424.09h0M638.3 277.96h0M638.3 290.14h0M638.3 302.31h0M638.3 314.49h0M638.3 326.67h0M638.3 338.85h0M638.3 351.03h0M638.3 363.2h0M638.3 375.38h0M638.3 387.56h0M638.3 399.74h0M638.3 411.92h0M638.3 424.09h0M638.3 436.27h0M638.3 448.45h0M638.3 460.63h0M653.6 229.25h0M653.6 241.42h0M653.6 253.6h0M653.6 265.78h0M653.6 277.96h0M653.6 290.14h0M653.6 302.31h0M653.6 314.49h0M653.6 326.67h0M653.6 338.85h0M653.6 351.03h0M653.6 363.2h0M653.6 375.38h0M653.6 387.56h0M653.6 399.74h0M653.6 411.92h0M653.6 424.09h0M653.6 436.27h0M653.6 448.45h0M669 265.78h0M669 277.96h0M669 290.14h0M669 302.31h0M669 314.49h0M669 326.67h0M669 338.85h0M669 351.03h0M669 363.2h0M669 375.38h0M669 387.56h0M669 399.74h0M669 411.92h0M669 424.09h0M669 436.27h0M669 448.45h0M684.3 290.14h0M684.3 302.31h0M684.3 314.49h0M684.3 326.67h0M684.3 338.85h0M684.3 351.03h0M684.3 363.2h0M684.3 375.38h0M684.3 387.56h0M684.3 399.74h0M684.3 411.92h0M684.3 424.09h0M684.3 436.27h0M684.3 448.45h0M684.3 460.63h0M684.3 472.81h0M699.3 180.53h0M699.3 192.71h0M699.3 204.89h0M699.3 217.07h0M699.3 229.25h0M699.3 241.42h0M699.3 253.6h0M699.3 265.78h0M699.3 277.96h0M699.3 290.14h0M699.3 302.31h0M699.3 314.49h0M699.3 326.67h0M699.3 338.85h0M699.3 351.03h0M699.3 363.2h0M699.3 375.38h0M714.8 180.53h0M714.8 192.71h0M714.8 204.89h0M714.8 217.07h0M714.8 229.25h0M714.8 241.42h0M714.8 253.6h0M714.8 265.78h0M714.8 277.96h0M714.8 290.14h0M714.8 302.31h0M714.8 314.49h0M714.8 326.67h0M714.8 338.85h0M714.8 351.03h0M714.8 363.2h0M730.1 192.71h0M730.1 204.89h0M730.1 217.07h0M730.1 229.25h0M730.1 241.42h0M730.1 253.6h0M730.1 265.78h0M730.1 277.96h0M730.1 290.14h0M730.1 302.31h0M730.1 314.49h0M730.1 326.67h0M730.1 338.85h0M730.1 351.03h0M730.1 363.2h0M745.4 204.89h0M745.4 217.07h0M745.4 229.25h0M745.4 241.42h0M745.4 253.6h0M745.4 265.78h0M745.4 277.96h0M745.4 290.14h0M745.4 302.31h0M745.4 314.49h0M745.4 326.67h0M745.4 338.85h0M745.4 351.03h0M745.4 363.2h0M745.4 375.38h0M760.7 204.89h0M760.7 217.07h0M760.7 229.25h0M760.7 241.42h0M760.7 253.6h0M760.7 265.78h0M760.7 277.96h0M760.7 290.14h0M760.7 302.31h0M760.7 314.49h0M760.7 326.67h0M760.7 338.85h0M760.7 351.03h0M760.7 363.2h0M760.7 375.38h0M760.7 387.56h0M776.1 217.07h0M776.1 229.25h0M776.1 241.42h0M776.1 253.6h0M776.1 265.78h0M776.1 277.96h0M776.1 290.14h0M776.1 302.31h0M776.1 314.49h0M776.1 326.67h0M776.1 338.85h0M776.1 351.03h0M776.1 363.2h0M776.1 375.38h0M776.1 387.56h0M791.4 229.25h0M791.4 241.42h0M791.4 253.6h0M791.4 265.78h0M791.4 277.96h0M791.4 290.14h0M791.4 302.31h0M791.4 314.49h0M791.4 326.67h0M791.4 338.85h0M791.4 351.03h0M791.4 363.2h0M791.4 375.38h0M791.4 387.56h0M791.4 399.74h0M791.4 411.92h0M791.4 424.09h0M791.4 436.27h0M791.4 448.45h0M806.7 253.6h0M806.7 265.78h0M806.7 277.96h0M806.7 290.14h0M806.7 302.31h0M806.7 314.49h0M806.7 326.67h0M806.7 338.85h0M806.7 351.03h0M806.7 363.2h0M806.7 375.38h0M806.7 387.56h0M806.7 399.74h0M806.7 411.92h0M806.7 424.09h0M822 265.78h0M822 277.96h0M822 290.14h0M822 302.31h0M822 314.49h0M822 326.67h0M822 338.85h0M822 351.03h0M822 363.2h0M822 375.38h0M822 387.56h0M822 399.74h0M822 411.92h0M822 424.09h0M822 436.27h0M837.4 290.14h0M837.4 302.31h0M837.4 314.49h0M837.4 326.67h0M837.4 338.85h0M837.4 351.03h0M837.4 363.2h0M837.4 375.38h0M837.4 387.56h0M837.4 399.74h0M837.4 411.92h0M837.4 424.09h0M837.4 436.27h0M837.4 448.45h0M837.4 460.63h0M852.7 338.85h0M852.7 351.03h0M852.7 363.2h0M852.7 375.38h0M852.7 387.56h0M852.7 399.74h0M852.7 411.92h0M852.7 424.09h0M852.7 436.27h0M852.7 448.45h0M852.7 460.63h0M852.7 472.81h0M852.7 484.98h0M852.7 497.16h0M852.7 509.34h0M867.9 436.27h0M867.9 448.45h0M867.9 460.63h0M867.9 472.81h0M867.9 484.98h0M867.9 497.16h0M867.9 509.34h0M867.9 521.52h0M867.9 533.7h0M867.9 545.87h0M867.9 558.05h0M867.9 570.23h0M867.9 582.41h0M867.9 594.59h0M867.9 606.76h0M867.9 618.94h0M883.1 533.7h0M883.1 545.87h0M883.1 558.05h0M883.1 570.23h0M883.1 582.41h0M883.1 594.59h0M883.1 606.76h0M883.1 618.94h0M883.1 631.12h0M883.1 643.3h0M883.1 655.48h0M883.1 667.65h0M883.1 679.83h0M883.1 692.01h0M883.1 704.19h0M883.1 716.37h0M898.4 338.85h0M898.4 351.03h0M898.4 363.2h0M898.4 375.38h0M898.4 387.56h0M898.4 399.74h0M898.4 411.92h0M898.4 424.09h0M898.4 436.27h0M898.4 448.45h0M898.4 460.63h0M898.4 472.81h0M898.4 484.98h0M898.4 497.16h0M898.4 509.34h0M898.4 521.52h0M913.8 375.38h0M913.8 387.56h0M913.8 399.74h0M913.8 411.92h0M913.8 424.09h0M913.8 436.27h0M913.8 448.45h0M913.8 460.63h0M913.8 472.81h0M913.8 484.98h0M913.8 497.16h0M913.8 509.34h0M913.8 521.52h0M913.8 533.7h0M913.8 545.87h0M929.1 411.92h0M929.1 424.09h0M929.1 436.27h0M929.1 448.45h0M929.1 460.63h0M929.1 472.81h0M929.1 484.98h0M929.1 497.16h0M929.1 509.34h0M929.1 521.52h0M929.1 533.7h0M929.1 545.87h0M929.1 558.05h0M929.1 570.23h0M929.1 582.41h0M944.4 460.63h0M944.4 472.81h0M944.4 484.98h0M944.4 497.16h0M944.4 509.34h0M944.4 521.52h0M944.4 533.7h0M944.4 545.87h0M944.4 558.05h0M944.4 570.23h0M944.4 582.41h0M944.4 594.59h0M944.4 606.76h0M944.4 618.94h0M944.4 631.12h0M944.4 643.3h0M959.7 509.34h0M959.7 521.52h0M959.7 533.7h0M959.7 545.87h0M959.7 558.05h0M959.7 570.23h0M959.7 582.41h0M959.7 594.59h0M959.7 606.76h0M959.7 618.94h0M959.7 631.12h0M959.7 643.3h0M959.7 655.48h0M959.7 667.65h0M959.7 679.83h0M974.9 558.05h0M974.9 570.23h0M974.9 582.41h0M974.9 594.59h0M974.9 606.76h0M974.9 618.94h0M974.9 631.12h0M974.9 643.3h0M974.9 655.48h0M974.9 667.65h0M974.9 679.83h0M974.9 692.01h0M974.9 704.19h0M974.9 716.37h0M974.9 728.54h0M974.9 740.72h0M974.9 752.9h0" stroke="#717171" stroke-width="3.2" stroke-linecap="round" fill="none"/>
<polygon points="242.8,99.8 253.1,99.8 253.1,126.4 252,126.4 249.7,106.2 244.7,101.3 242.8,101.3" fill="#fff"/>
<polygon points="241.3,108.7 247,108.7 247,127.8 245.6,127.8 243,124 241.8,120 241.3,114" fill="#fff"/>
<polygon points="240.8,130.8 247,130.8 246.6,205 245.6,215 245,227 244.2,212 243.3,190 241.2,150" fill="#fff"/>
<polygon points="291.5,104.5 352.4,104.5 352.4,120.4 339.6,119.4 337.7,114.5 333,112.3 298,111.2 297,109.3 292,104.8" fill="#fff"/>
<polygon points="300,115.6 331,115.6 331,158 326.4,151.4 321.3,140.6 312.4,137.4 308.6,133.5 304.7,122 300.5,116" fill="#fff"/>
<polygon points="311,142.8 319.4,142.8 319.4,172 318,170 313,155" fill="#fff"/>
<polygon points="327,160 331,160 331,189 329.5,189" fill="#fff"/>
<polygon points="345,123 351.4,123 351.4,128 347,128" fill="#fff"/>
<polygon points="374,107 379,107 378.5,133" fill="#fff"/>
<polygon points="465.4,129.5 472.3,129.5 471.5,146" fill="#fff"/>
<polygon points="477.5,132.7 561,132.7 561,135.2 477.5,135.2" fill="#fff"/>
<polygon points="481,138.6 559,138.6 559,197.4 551,196.4 545.2,192.5 539.3,184.7 529.5,174.8 519.6,167 511.8,159 508.6,157.7 500,151 493,146 483,140" fill="#fff"/>
<polygon points="549.5,201.5 553.5,201.5 552.5,208" fill="#fff"/>
<polygon points="561,132.7 685.7,132.7 685.7,200.5 671,196.4 665,188.6 657.2,177.8 649.3,171 641.5,165 640.5,164.6 617.9,163.4 612,162 602.2,155.2 594.3,150.3 584.5,144.4 576.6,141.8 567.8,141 561,136.5" fill="#fff"/>
<polygon points="614,167.5 639.5,167.5 639.5,208.2 635.6,194.5 629.7,184.7 621.8,174.8" fill="#fff"/>
<polygon points="568.8,146.3 583.5,146.3 583.5,172.9 578,172.9 574,160" fill="#fff"/>
<polygon points="578.6,177.8 582.5,177.8 582.5,196.4 580.5,196.4" fill="#fff"/>
<polygon points="677.8,202 684.7,202 684.7,226 682,226" fill="#fff"/>
<polygon points="703.8,139.9 710.1,139.9 710,148.2 709.5,148.2" fill="#fff"/>
<polygon points="708.3,151.2 709.9,151.2 709.4,154.6" fill="#fff"/>
<polygon points="849.4,276.8 885.6,276.8 885.6,465 884.5,464.8 880.5,443.2 874.7,419.6 870.7,400 866.7,368 862,336.5 857.3,312.9" fill="#fff"/>
<polygon points="849.2,272.6 866.3,272.6 866.3,274.1 849.2,274.1" fill="#fff"/>
<rect x="209.2" y="801.1" width="4.12" height="104.5" fill="#bebebe"/>
<rect x="212.97" y="801.1" width="1.6" height="104.5" fill="#a8a8a8"/>
<rect x="214.21" y="801.1" width="2.34" height="104.5" fill="#b8c8c8"/>
<rect x="216.21" y="801.1" width="1.1" height="104.5" fill="#e0b0b0"/>
<rect x="216.95" y="801.1" width="2.34" height="104.5" fill="#b04848"/>
<rect x="218.94" y="801.1" width="1.35" height="104.5" fill="#e0a0b0"/>
<rect x="219.94" y="801.1" width="2.34" height="104.5" fill="#c0c8d0"/>
<rect x="221.93" y="801.1" width="0.85" height="104.5" fill="#90c090"/>
<rect x="222.43" y="801.1" width="1.35" height="104.5" fill="#c08050"/>
<rect x="223.43" y="801.1" width="1.84" height="104.5" fill="#8060a0"/>
<rect x="224.92" y="801.1" width="1.35" height="104.5" fill="#7080a0"/>
<rect x="225.92" y="801.1" width="1.35" height="104.5" fill="#e080b0"/>
<rect x="226.91" y="801.1" width="1.35" height="104.5" fill="#90e090"/>
<rect x="227.91" y="801.1" width="1.35" height="104.5" fill="#c040c0"/>
<rect x="228.9" y="801.1" width="1.35" height="104.5" fill="#80d080"/>
<rect x="229.9" y="801.1" width="1.35" height="104.5" fill="#505090"/>
<rect x="230.9" y="801.1" width="2.84" height="104.5" fill="#ff1480"/>
<rect x="233.39" y="801.1" width="1.84" height="104.5" fill="#a0e0e0"/>
<rect x="234.88" y="801.1" width="1.35" height="104.5" fill="#20f0f0"/>
<rect x="235.88" y="801.1" width="1.6" height="104.5" fill="#a060ff"/>
<rect x="237.12" y="801.1" width="1.35" height="104.5" fill="#e080a0"/>
<rect x="238.12" y="801.1" width="1.35" height="104.5" fill="#d0d080"/>
<rect x="239.11" y="801.1" width="6.08" height="104.5" fill="#d2b48c"/>
<rect x="244.84" y="801.1" width="2.34" height="104.5" fill="#e0a080"/>
<rect x="246.83" y="801.1" width="6.33" height="104.5" fill="#00ffff"/>
<rect x="252.81" y="801.1" width="2.34" height="104.5" fill="#0000ff"/>
<rect x="254.8" y="801.1" width="1.84" height="104.5" fill="#ffc090"/>
<rect x="256.29" y="801.1" width="2.84" height="104.5" fill="#70a090"/>
<rect x="258.78" y="801.1" width="1.35" height="104.5" fill="#9090e0"/>
<rect x="259.78" y="801.1" width="2.34" height="104.5" fill="#a090d0"/>
<rect x="261.77" y="801.1" width="1.35" height="104.5" fill="#c0b060"/>
<rect x="262.77" y="801.1" width="2.34" height="104.5" fill="#8080d0"/>
<rect x="264.76" y="801.1" width="2.34" height="104.5" fill="#c060a0"/>
<rect x="266.75" y="801.1" width="1.35" height="104.5" fill="#603060"/>
<rect x="267.75" y="801.1" width="1.84" height="104.5" fill="#d08040"/>
<rect x="269.24" y="801.1" width="2.34" height="104.5" fill="#9060d0"/>
<rect x="271.24" y="801.1" width="1.35" height="104.5" fill="#103040"/>
<rect x="272.23" y="801.1" width="2.34" height="104.5" fill="#60c040"/>
<rect x="274.22" y="801.1" width="2.84" height="104.5" fill="#b07070"/>
<rect x="276.71" y="801.1" width="2.84" height="104.5" fill="#206090"/>
<rect x="279.2" y="801.1" width="1.1" height="104.5" fill="#6020a0"/>
<rect x="279.95" y="801.1" width="1.84" height="104.5" fill="#f0c020"/>
<rect x="281.44" y="801.1" width="1.6" height="104.5" fill="#605050"/>
<rect x="282.69" y="801.1" width="2.84" height="104.5" fill="#70a050"/>
<rect x="285.18" y="801.1" width="2.34" height="104.5" fill="#ff0000"/>
<rect x="287.17" y="801.1" width="2.34" height="104.5" fill="#d00040"/>
<rect x="289.16" y="801.1" width="1.35" height="104.5" fill="#3080a0"/>
<rect x="290.16" y="801.1" width="2.84" height="104.5" fill="#ff0040"/>
<rect x="292.65" y="801.1" width="2.34" height="104.5" fill="#a00040"/>
<rect x="294.64" y="801.1" width="1.84" height="104.5" fill="#c040ff"/>
<rect x="296.14" y="801.1" width="2.84" height="104.5" fill="#ff0080"/>
<rect x="298.63" y="801.1" width="1.35" height="104.5" fill="#20ffd0"/>
<rect x="300" y="801.1" width="2.09" height="104.5" fill="#20ffe0"/>
<rect x="301.74" y="801.1" width="3.09" height="104.5" fill="#ff0060"/>
<rect x="304.48" y="801.1" width="2.84" height="104.5" fill="#ff00a0"/>
<rect x="306.97" y="801.1" width="12.3" height="104.5" fill="#ff0000"/>
<rect x="318.92" y="801.1" width="12.55" height="104.5" fill="#ff00ff"/>
<rect x="331.13" y="801.1" width="2.09" height="104.5" fill="#ffdac0"/>
<rect x="332.87" y="801.1" width="18.53" height="104.5" fill="#ffc0cb"/>
<rect x="351.05" y="801.1" width="1.35" height="104.5" fill="#f0c8a0"/>
<rect x="352.04" y="801.1" width="1.1" height="104.5" fill="#9070d0"/>
<rect x="352.79" y="801.1" width="1.6" height="104.5" fill="#4080a0"/>
<rect x="354.03" y="801.1" width="1.1" height="104.5" fill="#c0b070"/>
<rect x="354.78" y="801.1" width="1.35" height="104.5" fill="#f09080"/>
<rect x="355.78" y="801.1" width="2.34" height="104.5" fill="#00e000"/>
<rect x="357.77" y="801.1" width="1.35" height="104.5" fill="#a0e040"/>
<rect x="358.76" y="801.1" width="2.84" height="104.5" fill="#2000ff"/>
<rect x="361.25" y="801.1" width="1.84" height="104.5" fill="#205050"/>
<rect x="362.75" y="801.1" width="1.84" height="104.5" fill="#e040ff"/>
<rect x="364.24" y="801.1" width="2.34" height="104.5" fill="#8090f0"/>
<rect x="366.24" y="801.1" width="3.34" height="104.5" fill="#0020e0"/>
<rect x="369.22" y="801.1" width="1.84" height="104.5" fill="#ffa060"/>
<rect x="370.72" y="801.1" width="7.32" height="104.5" fill="#fa8072"/>
<rect x="377.69" y="801.1" width="1.84" height="104.5" fill="#d0b090"/>
<rect x="379.18" y="801.1" width="1.35" height="104.5" fill="#3030c0"/>
<rect x="380.18" y="801.1" width="2.34" height="104.5" fill="#c09030"/>
<rect x="382.17" y="801.1" width="1.35" height="104.5" fill="#904020"/>
<rect x="383.17" y="801.1" width="1.84" height="104.5" fill="#20a070"/>
<rect x="384.66" y="801.1" width="1.35" height="104.5" fill="#a01010"/>
<rect x="385.66" y="801.1" width="1.35" height="104.5" fill="#f0e040"/>
<rect x="386.65" y="801.1" width="1.35" height="104.5" fill="#406020"/>
<rect x="387.65" y="801.1" width="1.84" height="104.5" fill="#a05040"/>
<rect x="389.14" y="801.1" width="1.35" height="104.5" fill="#a09080"/>
<rect x="390.14" y="801.1" width="1.84" height="104.5" fill="#3070b0"/>
<rect x="391.63" y="801.1" width="1.84" height="104.5" fill="#8050a0"/>
<rect x="393.13" y="801.1" width="2.34" height="104.5" fill="#f0e000"/>
<rect x="395.12" y="801.1" width="1.35" height="104.5" fill="#909090"/>
<rect x="396.12" y="801.1" width="1.84" height="104.5" fill="#20e080"/>
<rect x="397.61" y="801.1" width="1.84" height="104.5" fill="#406040"/>
<rect x="399.1" y="801.1" width="1.25" height="104.5" fill="#901060"/>
<rect x="400" y="801.1" width="1.84" height="104.5" fill="#6010a0"/>
<rect x="401.49" y="801.1" width="1.84" height="104.5" fill="#c0f020"/>
<rect x="402.99" y="801.1" width="2.34" height="104.5" fill="#90a070"/>
<rect x="404.98" y="801.1" width="1.35" height="104.5" fill="#f0a040"/>
<rect x="405.98" y="801.1" width="1.35" height="104.5" fill="#e02020"/>
<rect x="406.97" y="801.1" width="1.35" height="104.5" fill="#609090"/>
<rect x="407.97" y="801.1" width="2.34" height="104.5" fill="#8010d0"/>
<rect x="409.96" y="801.1" width="2.34" height="104.5" fill="#0000ff"/>
<rect x="411.95" y="801.1" width="1.84" height="104.5" fill="#80a0d0"/>
<rect x="413.45" y="801.1" width="1.35" height="104.5" fill="#909090"/>
<rect x="414.44" y="801.1" width="1.84" height="104.5" fill="#80ff80"/>
<rect x="415.94" y="801.1" width="2.34" height="104.5" fill="#ffff00"/>
<rect x="417.93" y="801.1" width="2.34" height="104.5" fill="#40d0c0"/>
<rect x="419.92" y="801.1" width="2.34" height="104.5" fill="#5040c0"/>
<rect x="421.91" y="801.1" width="1.84" height="104.5" fill="#00b050"/>
<rect x="423.41" y="801.1" width="1.84" height="104.5" fill="#8a8a8a"/>
<rect x="424.9" y="801.1" width="1.35" height="104.5" fill="#f0e070"/>
<rect x="425.9" y="801.1" width="1.84" height="104.5" fill="#a0ff40"/>
<rect x="427.39" y="801.1" width="1.35" height="104.5" fill="#7090c0"/>
<rect x="428.39" y="801.1" width="1.35" height="104.5" fill="#c0ff90"/>
<rect x="429.38" y="801.1" width="1.84" height="104.5" fill="#807020"/>
<rect x="430.88" y="801.1" width="2.34" height="104.5" fill="#1080e0"/>
<rect x="432.87" y="801.1" width="2.34" height="104.5" fill="#a0f040"/>
<rect x="434.86" y="801.1" width="2.34" height="104.5" fill="#3040b0"/>
<rect x="436.85" y="801.1" width="2.34" height="104.5" fill="#40c070"/>
<rect x="438.84" y="801.1" width="2.34" height="104.5" fill="#70a0a0"/>
<rect x="440.84" y="801.1" width="3.34" height="104.5" fill="#40f0e0"/>
<rect x="443.82" y="801.1" width="1.84" height="104.5" fill="#2040c0"/>
<rect x="445.32" y="801.1" width="2.34" height="104.5" fill="#80ffc0"/>
<rect x="447.31" y="801.1" width="2.34" height="104.5" fill="#20a070"/>
<rect x="449.3" y="801.1" width="2.34" height="104.5" fill="#50e0b0"/>
<rect x="451.29" y="801.1" width="1.84" height="104.5" fill="#10f070"/>
<rect x="452.79" y="801.1" width="1.35" height="104.5" fill="#208080"/>
<rect x="453.78" y="801.1" width="2.34" height="104.5" fill="#2080e0"/>
<rect x="455.78" y="801.1" width="1.84" height="104.5" fill="#8090d0"/>
<rect x="457.27" y="801.1" width="3.84" height="104.5" fill="#40f0d0"/>
<rect x="460.76" y="801.1" width="1.35" height="104.5" fill="#c0c060"/>
<rect x="461.75" y="801.1" width="10.81" height="104.5" fill="#adff2f"/>
<rect x="472.21" y="801.1" width="1.84" height="104.5" fill="#609080"/>
<rect x="473.71" y="801.1" width="1.84" height="104.5" fill="#ffff00"/>
<rect x="475.2" y="801.1" width="1.35" height="104.5" fill="#909090"/>
<rect x="476.2" y="801.1" width="1.1" height="104.5" fill="#d0d0d0"/>
<rect x="476.94" y="801.1" width="1.6" height="104.5" fill="#c00000"/>
<rect x="478.19" y="801.1" width="22.16" height="104.5" fill="#a52a2a"/>
<rect x="500" y="801.1" width="57.62" height="104.5" fill="#a52a2a"/>
<rect x="557.27" y="801.1" width="1.6" height="104.5" fill="#b01030"/>
<rect x="558.52" y="801.1" width="2.09" height="104.5" fill="#80ff00"/>
<rect x="560.26" y="801.1" width="2.84" height="104.5" fill="#c0f050"/>
<rect x="562.75" y="801.1" width="1.84" height="104.5" fill="#a0f090"/>
<rect x="564.24" y="801.1" width="1.1" height="104.5" fill="#708030"/>
<rect x="564.99" y="801.1" width="18.28" height="104.5" fill="#000000"/>
<rect x="582.92" y="801.1" width="1.1" height="104.5" fill="#207080"/>
<rect x="583.67" y="801.1" width="2.34" height="104.5" fill="#40e080"/>
<rect x="585.66" y="801.1" width="1.84" height="104.5" fill="#a0f0a0"/>
<rect x="587.15" y="801.1" width="2.84" height="104.5" fill="#00f070"/>
<rect x="589.64" y="801.1" width="1.84" height="104.5" fill="#c0f020"/>
<rect x="591.14" y="801.1" width="2.34" height="104.5" fill="#90e0c0"/>
<rect x="593.13" y="801.1" width="3.84" height="104.5" fill="#60ff20"/>
<rect x="596.61" y="801.1" width="1.84" height="104.5" fill="#ffff20"/>
<rect x="598.11" y="801.1" width="2.24" height="104.5" fill="#00ff30"/>
<rect x="600" y="801.1" width="1.35" height="104.5" fill="#80ff00"/>
<rect x="601" y="801.1" width="1.6" height="104.5" fill="#f0ff40"/>
<rect x="602.24" y="801.1" width="2.09" height="104.5" fill="#d0f080"/>
<rect x="603.98" y="801.1" width="1.35" height="104.5" fill="#20d080"/>
<rect x="604.98" y="801.1" width="2.34" height="104.5" fill="#80f080"/>
<rect x="606.97" y="801.1" width="1.35" height="104.5" fill="#20f080"/>
<rect x="607.97" y="801.1" width="1.6" height="104.5" fill="#90f090"/>
<rect x="609.21" y="801.1" width="30.23" height="104.5" fill="#00ff00"/>
<rect x="639.09" y="801.1" width="47.16" height="104.5" fill="#ffff00"/>
<rect x="685.91" y="801.1" width="1.6" height="104.5" fill="#1060ff"/>
<rect x="687.15" y="801.1" width="1.84" height="104.5" fill="#0030f0"/>
<rect x="688.65" y="801.1" width="1.35" height="104.5" fill="#40e0d0"/>
<rect x="689.64" y="801.1" width="2.34" height="104.5" fill="#2080e0"/>
<rect x="691.63" y="801.1" width="3.34" height="104.5" fill="#40ffd0"/>
<rect x="694.62" y="801.1" width="2.34" height="104.5" fill="#1040f0"/>
<rect x="696.61" y="801.1" width="2.34" height="104.5" fill="#20a0e0"/>
<rect x="698.61" y="801.1" width="1.74" height="104.5" fill="#a000ff"/>
<rect x="700" y="801.1" width="10.06" height="104.5" fill="#a020f0"/>
<rect x="709.71" y="801.1" width="1.35" height="104.5" fill="#2080f0"/>
<rect x="710.71" y="801.1" width="1.6" height="104.5" fill="#40d0d0"/>
<rect x="711.95" y="801.1" width="2.34" height="104.5" fill="#40ffc0"/>
<rect x="713.94" y="801.1" width="2.34" height="104.5" fill="#30b0e0"/>
<rect x="715.94" y="801.1" width="1.35" height="104.5" fill="#1040ff"/>
<rect x="716.93" y="801.1" width="1.35" height="104.5" fill="#40d0d0"/>
<rect x="717.93" y="801.1" width="2.84" height="104.5" fill="#1030ff"/>
<rect x="720.42" y="801.1" width="0.85" height="104.5" fill="#40d0d0"/>
<rect x="720.92" y="801.1" width="1.6" height="104.5" fill="#0020ff"/>
<rect x="722.16" y="801.1" width="2.59" height="104.5" fill="#40d0d0"/>
<rect x="724.4" y="801.1" width="1.84" height="104.5" fill="#40ffc0"/>
<rect x="725.9" y="801.1" width="3.34" height="104.5" fill="#40b8e0"/>
<rect x="728.88" y="801.1" width="3.34" height="104.5" fill="#40f0c0"/>
<rect x="731.87" y="801.1" width="2.34" height="104.5" fill="#2080f0"/>
<rect x="733.86" y="801.1" width="2.34" height="104.5" fill="#40d0d0"/>
<rect x="735.86" y="801.1" width="3.34" height="104.5" fill="#0000ff"/>
<rect x="738.84" y="801.1" width="4.33" height="104.5" fill="#40c0d0"/>
<rect x="742.83" y="801.1" width="1.84" height="104.5" fill="#40ffc0"/>
<rect x="744.32" y="801.1" width="2.84" height="104.5" fill="#40c0d0"/>
<rect x="746.81" y="801.1" width="1.35" height="104.5" fill="#2080f0"/>
<rect x="747.81" y="801.1" width="1.84" height="104.5" fill="#1030ff"/>
<rect x="749.3" y="801.1" width="2.84" height="104.5" fill="#40ffc0"/>
<rect x="751.79" y="801.1" width="2.34" height="104.5" fill="#40c0d0"/>
<rect x="753.78" y="801.1" width="1.35" height="104.5" fill="#2080f0"/>
<rect x="754.78" y="801.1" width="3.84" height="104.5" fill="#30a0e0"/>
<rect x="758.27" y="801.1" width="1.84" height="104.5" fill="#40ffc0"/>
<rect x="759.76" y="801.1" width="2.34" height="104.5" fill="#2080f0"/>
<rect x="761.75" y="801.1" width="1.84" height="104.5" fill="#40ffc0"/>
<rect x="763.25" y="801.1" width="4.33" height="104.5" fill="#40d0d0"/>
<rect x="767.23" y="801.1" width="7.82" height="104.5" fill="#40c0d0"/>
<rect x="774.7" y="801.1" width="2.34" height="104.5" fill="#2080f0"/>
<rect x="776.69" y="801.1" width="1.84" height="104.5" fill="#0020ff"/>
<rect x="778.19" y="801.1" width="4.83" height="104.5" fill="#30b0e0"/>
<rect x="782.67" y="801.1" width="2.34" height="104.5" fill="#2080f0"/>
<rect x="784.66" y="801.1" width="3.34" height="104.5" fill="#40ffc0"/>
<rect x="787.65" y="801.1" width="2.34" height="104.5" fill="#40c0d0"/>
<rect x="789.64" y="801.1" width="1.84" height="104.5" fill="#40ffc0"/>
<rect x="791.14" y="801.1" width="2.34" height="104.5" fill="#40c0d0"/>
<rect x="793.13" y="801.1" width="3.34" height="104.5" fill="#40ffc0"/>
<rect x="796.12" y="801.1" width="1.84" height="104.5" fill="#2080f0"/>
<rect x="797.61" y="801.1" width="1.6" height="104.5" fill="#40ffc0"/>
<rect x="798.85" y="801.1" width="1.5" height="104.5" fill="#2080f0"/>
<rect x="800" y="801.1" width="1.84" height="104.5" fill="#40e0d0"/>
<rect x="801.49" y="801.1" width="1.84" height="104.5" fill="#50f0c8"/>
<rect x="802.99" y="801.1" width="3.09" height="104.5" fill="#38a8e0"/>
<rect x="805.73" y="801.1" width="1.6" height="104.5" fill="#2040f0"/>
<rect x="806.97" y="801.1" width="4.33" height="104.5" fill="#40e0d0"/>
<rect x="810.96" y="801.1" width="1.6" height="104.5" fill="#50f0c8"/>
<rect x="812.2" y="801.1" width="2.09" height="104.5" fill="#2050f0"/>
<rect x="813.94" y="801.1" width="3.34" height="104.5" fill="#38b0e0"/>
<rect x="816.93" y="801.1" width="3.34" height="104.5" fill="#40e0d0"/>
<rect x="819.92" y="801.1" width="2.34" height="104.5" fill="#50f0c8"/>
<rect x="821.91" y="801.1" width="2.34" height="104.5" fill="#40c0d8"/>
<rect x="823.9" y="801.1" width="4.83" height="104.5" fill="#40e0d0"/>
<rect x="828.39" y="801.1" width="3.34" height="104.5" fill="#50f0c8"/>
<rect x="831.37" y="801.1" width="1.84" height="104.5" fill="#3090e0"/>
<rect x="832.87" y="801.1" width="3.34" height="104.5" fill="#40d0d0"/>
<rect x="835.86" y="801.1" width="2.34" height="104.5" fill="#2050f0"/>
<rect x="837.85" y="801.1" width="1.6" height="104.5" fill="#3080e0"/>
<rect x="839.09" y="801.1" width="3.09" height="104.5" fill="#38b0e0"/>
<rect x="841.83" y="801.1" width="1.84" height="104.5" fill="#40e0d0"/>
<rect x="843.33" y="801.1" width="1.84" height="104.5" fill="#2050f0"/>
<rect x="844.82" y="801.1" width="1.6" height="104.5" fill="#40a0e0"/>
<rect x="846.07" y="801.1" width="39.94" height="104.5" fill="#0000ff"/>
<rect x="885.66" y="801.1" width="1.84" height="104.5" fill="#50f0c8"/>
<rect x="887.15" y="801.1" width="13.2" height="104.5" fill="#40e0d0"/>
<rect x="900" y="801.1" width="76.35" height="104.5" fill="#40e0d0"/>
<rect x="209.2" y="905.6" width="3.87" height="104.4" fill="#bebebe"/>
<rect x="212.72" y="905.6" width="1.84" height="104.4" fill="#80e060"/>
<rect x="214.21" y="905.6" width="2.84" height="104.4" fill="#d0b0d0"/>
<rect x="216.7" y="905.6" width="0.85" height="104.4" fill="#90e090"/>
<rect x="217.2" y="905.6" width="2.34" height="104.4" fill="#80b040"/>
<rect x="219.19" y="905.6" width="1.1" height="104.4" fill="#90e090"/>
<rect x="219.94" y="905.6" width="2.59" height="104.4" fill="#d0b8d8"/>
<rect x="222.18" y="905.6" width="2.09" height="104.4" fill="#5f8f90"/>
<rect x="223.92" y="905.6" width="1.35" height="104.4" fill="#c0a080"/>
<rect x="224.92" y="905.6" width="1.84" height="104.4" fill="#c090d0"/>
<rect x="226.41" y="905.6" width="1.1" height="104.4" fill="#d0b090"/>
<rect x="227.16" y="905.6" width="1.35" height="104.4" fill="#805030"/>
<rect x="228.16" y="905.6" width="1.35" height="104.4" fill="#709070"/>
<rect x="229.15" y="905.6" width="1.1" height="104.4" fill="#90c0e0"/>
<rect x="229.9" y="905.6" width="1.35" height="104.4" fill="#e08040"/>
<rect x="230.9" y="905.6" width="1.6" height="104.4" fill="#40a020"/>
<rect x="232.14" y="905.6" width="1.1" height="104.4" fill="#304040"/>
<rect x="232.89" y="905.6" width="1.6" height="104.4" fill="#e0a0e0"/>
<rect x="234.13" y="905.6" width="2.34" height="104.4" fill="#c0f0b0"/>
<rect x="236.13" y="905.6" width="1.1" height="104.4" fill="#40a020"/>
<rect x="236.87" y="905.6" width="10.31" height="104.4" fill="#ff00ff"/>
<rect x="246.83" y="905.6" width="5.58" height="104.4" fill="#a8f820"/>
<rect x="252.06" y="905.6" width="1.35" height="104.4" fill="#a0a020"/>
<rect x="253.06" y="905.6" width="2.09" height="104.4" fill="#ffe020"/>
<rect x="254.8" y="905.6" width="1.35" height="104.4" fill="#a0c0c0"/>
<rect x="255.8" y="905.6" width="2.34" height="104.4" fill="#9080b0"/>
<rect x="257.79" y="905.6" width="2.34" height="104.4" fill="#e0e080"/>
<rect x="259.78" y="905.6" width="1.84" height="104.4" fill="#a06080"/>
<rect x="261.27" y="905.6" width="2.09" height="104.4" fill="#e0b080"/>
<rect x="263.02" y="905.6" width="2.59" height="104.4" fill="#80e060"/>
<rect x="265.26" y="905.6" width="1.84" height="104.4" fill="#708060"/>
<rect x="266.75" y="905.6" width="1.84" height="104.4" fill="#e06020"/>
<rect x="268.25" y="905.6" width="1.1" height="104.4" fill="#c03040"/>
<rect x="268.99" y="905.6" width="1.84" height="104.4" fill="#b0f050"/>
<rect x="270.49" y="905.6" width="1.6" height="104.4" fill="#f02020"/>
<rect x="271.73" y="905.6" width="1.84" height="104.4" fill="#407070"/>
<rect x="273.23" y="905.6" width="1.35" height="104.4" fill="#7060c0"/>
<rect x="274.22" y="905.6" width="2.34" height="104.4" fill="#70a080"/>
<rect x="276.22" y="905.6" width="2.34" height="104.4" fill="#c08060"/>
<rect x="278.21" y="905.6" width="1.84" height="104.4" fill="#d0a010"/>
<rect x="279.7" y="905.6" width="1.6" height="104.4" fill="#2050c0"/>
<rect x="280.95" y="905.6" width="2.09" height="104.4" fill="#f04040"/>
<rect x="282.69" y="905.6" width="1.84" height="104.4" fill="#d03050"/>
<rect x="284.18" y="905.6" width="3.84" height="104.4" fill="#10ff10"/>
<rect x="287.67" y="905.6" width="1.84" height="104.4" fill="#40d020"/>
<rect x="289.16" y="905.6" width="1.84" height="104.4" fill="#f0a020"/>
<rect x="290.66" y="905.6" width="1.35" height="104.4" fill="#806020"/>
<rect x="291.65" y="905.6" width="3.84" height="104.4" fill="#50ff00"/>
<rect x="295.14" y="905.6" width="1.35" height="104.4" fill="#20a020"/>
<rect x="296.14" y="905.6" width="1.84" height="104.4" fill="#004000"/>
<rect x="297.63" y="905.6" width="1.84" height="104.4" fill="#208040"/>
<rect x="299.12" y="905.6" width="0.85" height="104.4" fill="#40ffff"/>
<rect x="300" y="905.6" width="1.84" height="104.4" fill="#40f0ff"/>
<rect x="301.49" y="905.6" width="1.84" height="104.4" fill="#10d010"/>
<rect x="302.99" y="905.6" width="2.34" height="104.4" fill="#008000"/>
<rect x="304.98" y="905.6" width="2.09" height="104.4" fill="#004000"/>
<rect x="306.72" y="905.6" width="12.8" height="104.4" fill="#00ff00"/>
<rect x="319.17" y="905.6" width="12.05" height="104.4" fill="#000000"/>
<rect x="330.88" y="905.6" width="21.52" height="104.4" fill="#00ff00"/>
<rect x="352.04" y="905.6" width="1.1" height="104.4" fill="#c0c060"/>
<rect x="352.79" y="905.6" width="1.84" height="104.4" fill="#a090d0"/>
<rect x="354.28" y="905.6" width="1.84" height="104.4" fill="#9080a0"/>
<rect x="355.78" y="905.6" width="2.84" height="104.4" fill="#1010ee"/>
<rect x="358.27" y="905.6" width="1.35" height="104.4" fill="#c0b070"/>
<rect x="359.26" y="905.6" width="1.84" height="104.4" fill="#e0e020"/>
<rect x="360.76" y="905.6" width="1.6" height="104.4" fill="#d0a020"/>
<rect x="362" y="905.6" width="1.6" height="104.4" fill="#802040"/>
<rect x="363.25" y="905.6" width="1.35" height="104.4" fill="#204040"/>
<rect x="364.24" y="905.6" width="1.35" height="104.4" fill="#709090"/>
<rect x="365.24" y="905.6" width="2.34" height="104.4" fill="#f0ff50"/>
<rect x="367.23" y="905.6" width="2.84" height="104.4" fill="#e0e020"/>
<rect x="369.72" y="905.6" width="8.82" height="104.4" fill="#a020f0"/>
<rect x="378.19" y="905.6" width="0.85" height="104.4" fill="#c0a0e0"/>
<rect x="378.69" y="905.6" width="1.84" height="104.4" fill="#f0c020"/>
<rect x="380.18" y="905.6" width="1.84" height="104.4" fill="#7030b0"/>
<rect x="381.67" y="905.6" width="1.35" height="104.4" fill="#c05030"/>
<rect x="382.67" y="905.6" width="2.34" height="104.4" fill="#5080a0"/>
<rect x="384.66" y="905.6" width="1.84" height="104.4" fill="#c01020"/>
<rect x="386.16" y="905.6" width="1.35" height="104.4" fill="#2030e0"/>
<rect x="387.15" y="905.6" width="2.34" height="104.4" fill="#d03040"/>
<rect x="389.14" y="905.6" width="1.84" height="104.4" fill="#90b050"/>
<rect x="390.64" y="905.6" width="1.35" height="104.4" fill="#8070a0"/>
<rect x="391.63" y="905.6" width="1.84" height="104.4" fill="#c09050"/>
<rect x="393.13" y="905.6" width="2.34" height="104.4" fill="#1010e0"/>
<rect x="395.12" y="905.6" width="2.34" height="104.4" fill="#3090e0"/>
<rect x="397.11" y="905.6" width="1.84" height="104.4" fill="#a06080"/>
<rect x="398.61" y="905.6" width="1.74" height="104.4" fill="#a0a020"/>
<rect x="400" y="905.6" width="2.09" height="104.4" fill="#f0a800"/>
<rect x="401.74" y="905.6" width="1.6" height="104.4" fill="#1010ee"/>
<rect x="402.99" y="905.6" width="1.35" height="104.4" fill="#909090"/>
<rect x="403.98" y="905.6" width="1.6" height="104.4" fill="#4070c0"/>
<rect x="405.23" y="905.6" width="1.35" height="104.4" fill="#804060"/>
<rect x="406.23" y="905.6" width="1.1" height="104.4" fill="#b02010"/>
<rect x="406.97" y="905.6" width="1.6" height="104.4" fill="#d0d080"/>
<rect x="408.22" y="905.6" width="1.6" height="104.4" fill="#d0f030"/>
<rect x="409.46" y="905.6" width="3.34" height="104.4" fill="#ffff20"/>
<rect x="412.45" y="905.6" width="1.84" height="104.4" fill="#a0e090"/>
<rect x="413.94" y="905.6" width="1.35" height="104.4" fill="#8080b0"/>
<rect x="414.94" y="905.6" width="1.35" height="104.4" fill="#4090f0"/>
<rect x="415.94" y="905.6" width="2.09" height="104.4" fill="#0000ff"/>
<rect x="417.68" y="905.6" width="1.1" height="104.4" fill="#7090b0"/>
<rect x="418.43" y="905.6" width="1.35" height="104.4" fill="#40d0c0"/>
<rect x="419.42" y="905.6" width="0.85" height="104.4" fill="#909090"/>
<rect x="419.92" y="905.6" width="2.34" height="104.4" fill="#e0b020"/>
<rect x="421.91" y="905.6" width="1.84" height="104.4" fill="#4070c0"/>
<rect x="423.41" y="905.6" width="1.35" height="104.4" fill="#909090"/>
<rect x="424.4" y="905.6" width="1.84" height="104.4" fill="#5070e0"/>
<rect x="425.9" y="905.6" width="1.35" height="104.4" fill="#6040b0"/>
<rect x="426.89" y="905.6" width="1.35" height="104.4" fill="#c0e040"/>
<rect x="427.89" y="905.6" width="1.35" height="104.4" fill="#20b0f0"/>
<rect x="428.88" y="905.6" width="2.34" height="104.4" fill="#802080"/>
<rect x="430.88" y="905.6" width="2.34" height="104.4" fill="#90e080"/>
<rect x="432.87" y="905.6" width="2.34" height="104.4" fill="#1030f0"/>
<rect x="434.86" y="905.6" width="1.35" height="104.4" fill="#c0a030"/>
<rect x="435.86" y="905.6" width="1.35" height="104.4" fill="#b0e040"/>
<rect x="436.85" y="905.6" width="2.84" height="104.4" fill="#4070d0"/>
<rect x="439.34" y="905.6" width="1.84" height="104.4" fill="#90e080"/>
<rect x="440.84" y="905.6" width="1.35" height="104.4" fill="#909090"/>
<rect x="441.83" y="905.6" width="2.59" height="104.4" fill="#30f0e0"/>
<rect x="444.07" y="905.6" width="1.35" height="104.4" fill="#c0b040"/>
<rect x="445.07" y="905.6" width="1.1" height="104.4" fill="#909090"/>
<rect x="445.82" y="905.6" width="2.34" height="104.4" fill="#20c0f0"/>
<rect x="447.81" y="905.6" width="1.35" height="104.4" fill="#8070b0"/>
<rect x="448.8" y="905.6" width="1.84" height="104.4" fill="#20c0f0"/>
<rect x="450.3" y="905.6" width="2.84" height="104.4" fill="#2080f0"/>
<rect x="452.79" y="905.6" width="1.1" height="104.4" fill="#909090"/>
<rect x="453.54" y="905.6" width="2.59" height="104.4" fill="#90f080"/>
<rect x="455.78" y="905.6" width="1.35" height="104.4" fill="#909090"/>
<rect x="456.77" y="905.6" width="2.84" height="104.4" fill="#30d0e0"/>
<rect x="459.26" y="905.6" width="1.6" height="104.4" fill="#2080f0"/>
<rect x="460.51" y="905.6" width="1.1" height="104.4" fill="#909090"/>
<rect x="461.25" y="905.6" width="1.35" height="104.4" fill="#d04000"/>
<rect x="462.25" y="905.6" width="8.32" height="104.4" fill="#a52a2a"/>
<rect x="470.22" y="905.6" width="1.35" height="104.4" fill="#c00000"/>
<rect x="471.22" y="905.6" width="1.35" height="104.4" fill="#909090"/>
<rect x="472.21" y="905.6" width="1.84" height="104.4" fill="#40b0d0"/>
<rect x="473.71" y="905.6" width="1.84" height="104.4" fill="#0000ff"/>
<rect x="475.2" y="905.6" width="1.35" height="104.4" fill="#2090f0"/>
<rect x="476.2" y="905.6" width="1.1" height="104.4" fill="#909090"/>
<rect x="476.94" y="905.6" width="1.6" height="104.4" fill="#c00000"/>
<rect x="478.19" y="905.6" width="22.16" height="104.4" fill="#a52a2a"/>
<rect x="500" y="905.6" width="57.37" height="104.4" fill="#a52a2a"/>
<rect x="557.02" y="905.6" width="1.84" height="104.4" fill="#b03010"/>
<rect x="558.52" y="905.6" width="2.09" height="104.4" fill="#0010ff"/>
<rect x="560.26" y="905.6" width="2.84" height="104.4" fill="#2050e0"/>
<rect x="562.75" y="905.6" width="1.6" height="104.4" fill="#10a0f0"/>
<rect x="563.99" y="905.6" width="1.35" height="104.4" fill="#506080"/>
<rect x="564.99" y="905.6" width="18.28" height="104.4" fill="#ff0000"/>
<rect x="582.92" y="905.6" width="1.1" height="104.4" fill="#c0a080"/>
<rect x="583.67" y="905.6" width="1.35" height="104.4" fill="#10a0f0"/>
<rect x="584.66" y="905.6" width="1.35" height="104.4" fill="#0030f0"/>
<rect x="585.66" y="905.6" width="1.84" height="104.4" fill="#3090e0"/>
<rect x="587.15" y="905.6" width="1.35" height="104.4" fill="#2060e0"/>
<rect x="588.15" y="905.6" width="1.35" height="104.4" fill="#30a0e0"/>
<rect x="589.14" y="905.6" width="2.84" height="104.4" fill="#0010f0"/>
<rect x="591.63" y="905.6" width="1.84" height="104.4" fill="#30d0d0"/>
<rect x="593.13" y="905.6" width="2.34" height="104.4" fill="#1040f0"/>
<rect x="595.12" y="905.6" width="2.34" height="104.4" fill="#2060e0"/>
<rect x="597.11" y="905.6" width="3.24" height="104.4" fill="#0010f0"/>
<rect x="600" y="905.6" width="1.84" height="104.4" fill="#0000ff"/>
<rect x="601.49" y="905.6" width="1.84" height="104.4" fill="#2060e0"/>
<rect x="602.99" y="905.6" width="1.35" height="104.4" fill="#0000ff"/>
<rect x="603.98" y="905.6" width="2.34" height="104.4" fill="#3090e0"/>
<rect x="605.98" y="905.6" width="3.84" height="104.4" fill="#2070e0"/>
<rect x="609.46" y="905.6" width="76.79" height="104.4" fill="#0000ff"/>
<rect x="685.91" y="905.6" width="2.09" height="104.4" fill="#b0f050"/>
<rect x="687.65" y="905.6" width="1.6" height="104.4" fill="#e0f020"/>
<rect x="688.89" y="905.6" width="1.6" height="104.4" fill="#30a0e0"/>
<rect x="690.14" y="905.6" width="2.84" height="104.4" fill="#90e080"/>
<rect x="692.63" y="905.6" width="2.59" height="104.4" fill="#30e0e0"/>
<rect x="694.87" y="905.6" width="1.84" height="104.4" fill="#c0e040"/>
<rect x="696.36" y="905.6" width="2.59" height="104.4" fill="#80e080"/>
<rect x="698.61" y="905.6" width="1.74" height="104.4" fill="#ffc0cb"/>
<rect x="700" y="905.6" width="10.06" height="104.4" fill="#ffc0cb"/>
<rect x="709.71" y="905.6" width="1.35" height="104.4" fill="#a0e060"/>
<rect x="710.71" y="905.6" width="1.6" height="104.4" fill="#b0f050"/>
<rect x="711.95" y="905.6" width="1.35" height="104.4" fill="#60e0a0"/>
<rect x="712.95" y="905.6" width="1.6" height="104.4" fill="#30d8e0"/>
<rect x="714.19" y="905.6" width="2.09" height="104.4" fill="#60e0a0"/>
<rect x="715.94" y="905.6" width="1.6" height="104.4" fill="#d0f030"/>
<rect x="717.18" y="905.6" width="1.1" height="104.4" fill="#60e0a0"/>
<rect x="717.93" y="905.6" width="2.34" height="104.4" fill="#c0f040"/>
<rect x="719.92" y="905.6" width="1.35" height="104.4" fill="#60e0a0"/>
<rect x="720.92" y="905.6" width="1.6" height="104.4" fill="#e0f020"/>
<rect x="722.16" y="905.6" width="1.6" height="104.4" fill="#60e0a0"/>
<rect x="723.41" y="905.6" width="1.84" height="104.4" fill="#30d8e0"/>
<rect x="724.9" y="905.6" width="1.35" height="104.4" fill="#60e0a0"/>
<rect x="725.9" y="905.6" width="1.6" height="104.4" fill="#a0f060"/>
<rect x="727.14" y="905.6" width="1.6" height="104.4" fill="#60e0a0"/>
<rect x="728.39" y="905.6" width="1.84" height="104.4" fill="#90e870"/>
<rect x="729.88" y="905.6" width="2.34" height="104.4" fill="#30d8e0"/>
<rect x="731.87" y="905.6" width="2.34" height="104.4" fill="#b0f050"/>
<rect x="733.86" y="905.6" width="1.35" height="104.4" fill="#60e0a0"/>
<rect x="734.86" y="905.6" width="2.09" height="104.4" fill="#30d8e0"/>
<rect x="736.6" y="905.6" width="2.34" height="104.4" fill="#f0ff10"/>
<rect x="738.6" y="905.6" width="4.58" height="104.4" fill="#60e8a8"/>
<rect x="742.83" y="905.6" width="1.35" height="104.4" fill="#30d8e0"/>
<rect x="743.82" y="905.6" width="2.59" height="104.4" fill="#60e8a8"/>
<rect x="746.07" y="905.6" width="1.35" height="104.4" fill="#c0f040"/>
<rect x="747.06" y="905.6" width="1.35" height="104.4" fill="#30d8e0"/>
<rect x="748.06" y="905.6" width="1.6" height="104.4" fill="#c0f040"/>
<rect x="749.3" y="905.6" width="3.09" height="104.4" fill="#30d8e0"/>
<rect x="752.04" y="905.6" width="2.09" height="104.4" fill="#60e8a8"/>
<rect x="753.78" y="905.6" width="1.35" height="104.4" fill="#a0f070"/>
<rect x="754.78" y="905.6" width="4.33" height="104.4" fill="#70e890"/>
<rect x="758.76" y="905.6" width="1.35" height="104.4" fill="#20d0f0"/>
<rect x="759.76" y="905.6" width="2.34" height="104.4" fill="#90e870"/>
<rect x="761.75" y="905.6" width="5.83" height="104.4" fill="#50e0c0"/>
<rect x="767.23" y="905.6" width="1.1" height="104.4" fill="#90e870"/>
<rect x="767.98" y="905.6" width="7.07" height="104.4" fill="#60e8a8"/>
<rect x="774.7" y="905.6" width="1.6" height="104.4" fill="#c0f040"/>
<rect x="775.95" y="905.6" width="1.35" height="104.4" fill="#60e8a8"/>
<rect x="776.94" y="905.6" width="1.35" height="104.4" fill="#e0f020"/>
<rect x="777.94" y="905.6" width="5.58" height="104.4" fill="#60e8a8"/>
<rect x="783.17" y="905.6" width="2.09" height="104.4" fill="#a0f070"/>
<rect x="784.91" y="905.6" width="3.34" height="104.4" fill="#30d8e0"/>
<rect x="787.9" y="905.6" width="2.09" height="104.4" fill="#90e870"/>
<rect x="789.64" y="905.6" width="1.6" height="104.4" fill="#30d8e0"/>
<rect x="790.89" y="905.6" width="2.34" height="104.4" fill="#90e870"/>
<rect x="792.88" y="905.6" width="3.34" height="104.4" fill="#30d8e0"/>
<rect x="795.87" y="905.6" width="2.34" height="104.4" fill="#c0f040"/>
<rect x="797.86" y="905.6" width="1.6" height="104.4" fill="#30d8e0"/>
<rect x="799.1" y="905.6" width="1.25" height="104.4" fill="#60e8a8"/>
<rect x="800" y="905.6" width="2.34" height="104.4" fill="#40e0d0"/>
<rect x="801.99" y="905.6" width="1.35" height="104.4" fill="#30d8e0"/>
<rect x="802.99" y="905.6" width="2.84" height="104.4" fill="#70e890"/>
<rect x="805.48" y="905.6" width="1.84" height="104.4" fill="#c0f040"/>
<rect x="806.97" y="905.6" width="4.83" height="104.4" fill="#40e0d0"/>
<rect x="811.45" y="905.6" width="1.35" height="104.4" fill="#30d8e0"/>
<rect x="812.45" y="905.6" width="1.84" height="104.4" fill="#c0f040"/>
<rect x="813.94" y="905.6" width="3.34" height="104.4" fill="#60e8a8"/>
<rect x="816.93" y="905.6" width="1.84" height="104.4" fill="#40e0d0"/>
<rect x="818.43" y="905.6" width="1.84" height="104.4" fill="#90e870"/>
<rect x="819.92" y="905.6" width="2.34" height="104.4" fill="#30d8e0"/>
<rect x="821.91" y="905.6" width="2.34" height="104.4" fill="#60e8a8"/>
<rect x="823.9" y="905.6" width="4.33" height="104.4" fill="#40e0d0"/>
<rect x="827.89" y="905.6" width="1.84" height="104.4" fill="#60e8a8"/>
<rect x="829.38" y="905.6" width="2.34" height="104.4" fill="#40e0d0"/>
<rect x="831.37" y="905.6" width="1.84" height="104.4" fill="#90f070"/>
<rect x="832.87" y="905.6" width="3.34" height="104.4" fill="#60e8a8"/>
<rect x="835.86" y="905.6" width="1.6" height="104.4" fill="#c0f040"/>
<rect x="837.1" y="905.6" width="1.35" height="104.4" fill="#60e8a8"/>
<rect x="838.1" y="905.6" width="1.35" height="104.4" fill="#c0f040"/>
<rect x="839.09" y="905.6" width="3.84" height="104.4" fill="#70e890"/>
<rect x="842.58" y="905.6" width="1.1" height="104.4" fill="#40e0d0"/>
<rect x="843.33" y="905.6" width="1.84" height="104.4" fill="#c0f040"/>
<rect x="844.82" y="905.6" width="1.6" height="104.4" fill="#60e8a8"/>
<rect x="846.07" y="905.6" width="39.69" height="104.4" fill="#ffff00"/>
<rect x="885.41" y="905.6" width="1.6" height="104.4" fill="#30d8e0"/>
<rect x="886.65" y="905.6" width="13.7" height="104.4" fill="#40e0d0"/>
<rect x="900" y="905.6" width="76.35" height="104.4" fill="#40e0d0"/>
<path d="M209.2 801.1H976M209.2 905.6H976M209.2 1010H976" stroke="#000" stroke-width="2.9" stroke-linecap="round"/>
<text transform="translate(11.8 857) scale(1 1.03)" font-size="24.2">Dynamic Tree Cut</text>
<text transform="translate(38.59 961.5) scale(1 1.03)" font-size="24.4">Module colors</text>
<text transform="translate(1041.7 39.9) scale(0.935 1)" font-size="35" font-weight="bold">B</text>
<text transform="translate(1409.56 81.4) scale(1 1.03)" font-size="28.4">Module−trait relationships</text>
<rect x="1226.1" y="123.5" width="57.2" height="69.85" fill="#a020f0"/>
<rect x="1291" y="126.5" width="598" height="66.85" fill="#ffffff"/>
<text transform="translate(1114.14 163.5) scale(1 1.03)" font-size="24.5">MEpurple</text>
<text transform="translate(1568.41 155) scale(1 1.03)" font-size="24.5">−0.012</text>
<text transform="translate(1581.03 175) scale(1 1.03)" font-size="24.5">(0.7)</text>
<rect x="1226.1" y="193.05" width="57.2" height="66.85" fill="#40e0d0"/>
<rect x="1291" y="193.05" width="598" height="66.85" fill="#aed9ff"/>
<text transform="translate(1081.44 230.05) scale(1 1.03)" font-size="24.5">MEturquoise</text>
<text transform="translate(1575.09 221.55) scale(1 1.03)" font-size="24.5">−0.35</text>
<text transform="translate(1563.63 241.55) scale(1 1.03)" font-size="24.5">(9e−25)</text>
<rect x="1226.1" y="259.6" width="57.2" height="66.85" fill="#ffff00"/>
<rect x="1291" y="259.6" width="598" height="66.85" fill="#d7ecff"/>
<text transform="translate(1112.98 296.6) scale(1 1.03)" font-size="24.5">MEyellow</text>
<text transform="translate(1575.21 288.1) scale(1 1.03)" font-size="24.5">−0.17</text>
<text transform="translate(1563.63 308.1) scale(1 1.03)" font-size="24.5">(2e−06)</text>
<rect x="1226.1" y="326.15" width="57.2" height="66.85" fill="#0000ff"/>
<rect x="1291" y="326.15" width="598" height="66.85" fill="#ff4c20"/>
<text transform="translate(1135.89 363.15) scale(1 1.03)" font-size="24.5">MEblue</text>
<text transform="translate(1582.37 354.65) scale(1 1.03)" font-size="24.5">0.85</text>
<text transform="translate(1556.83 374.65) scale(1 1.03)" font-size="24.5">(5e−229)</text>
<rect x="1226.1" y="392.7" width="57.2" height="66.85" fill="#ffc0cb"/>
<rect x="1291" y="392.7" width="598" height="66.85" fill="#ff886a"/>
<text transform="translate(1136.19 429.7) scale(1 1.03)" font-size="24.5">MEpink</text>
<text transform="translate(1582.43 421.2) scale(1 1.03)" font-size="24.5">0.59</text>
<text transform="translate(1563.63 441.2) scale(1 1.03)" font-size="24.5">(1e−78)</text>
<rect x="1226.1" y="459.25" width="57.2" height="66.85" fill="#a52a2a"/>
<rect x="1291" y="459.25" width="598" height="66.85" fill="#ff552a"/>
<text transform="translate(1116.04 496.25) scale(1 1.03)" font-size="24.5">MEbrown</text>
<text transform="translate(1582.4 487.75) scale(1 1.03)" font-size="24.5">0.83</text>
<text transform="translate(1556.83 507.75) scale(1 1.03)" font-size="24.5">(1e−210)</text>
<rect x="1226.1" y="525.8" width="57.2" height="66.85" fill="#ff0000"/>
<rect x="1291" y="525.8" width="598" height="66.85" fill="#ff552a"/>
<text transform="translate(1147.28 562.8) scale(1 1.03)" font-size="24.5">MEred</text>
<text transform="translate(1582.47 554.3) scale(1 1.03)" font-size="24.5">0.81</text>
<text transform="translate(1556.83 574.3) scale(1 1.03)" font-size="24.5">(3e−195)</text>
<rect x="1226.1" y="592.35" width="57.2" height="66.85" fill="#00ff00"/>
<rect x="1291" y="592.35" width="598" height="66.85" fill="#ffddd4"/>
<text transform="translate(1120.08 629.35) scale(1 1.03)" font-size="24.5">MEgreen</text>
<text transform="translate(1582.4 620.85) scale(1 1.03)" font-size="24.5">0.16</text>
<text transform="translate(1563.63 640.85) scale(1 1.03)" font-size="24.5">(4e−06)</text>
<rect x="1226.1" y="658.9" width="57.2" height="66.85" fill="#000000"/>
<rect x="1291" y="658.9" width="598" height="66.85" fill="#fff6f4"/>
<text transform="translate(1123.94 695.9) scale(1 1.03)" font-size="24.5">MEblack</text>
<text transform="translate(1575.54 687.4) scale(1 1.03)" font-size="24.5">0.075</text>
<text transform="translate(1574.2 707.4) scale(1 1.03)" font-size="24.5">(0.03)</text>
<rect x="1226.1" y="725.45" width="57.2" height="66.85" fill="#ff00ff"/>
<rect x="1291" y="725.45" width="598" height="66.85" fill="#ffeeea"/>
<text transform="translate(1085.85 762.45) scale(1 1.03)" font-size="24.5">MEmagenta</text>
<text transform="translate(1583.38 753.95) scale(1 1.03)" font-size="24.5">0.11</text>
<text transform="translate(1567.4 773.95) scale(1 1.03)" font-size="24.5">(0.003)</text>
<rect x="1226.1" y="792" width="57.2" height="66.85" fill="#adff2f"/>
<rect x="1291" y="792" width="598" height="66.85" fill="#ffd4ca"/>
<text transform="translate(1050.32 829) scale(1 1.03)" font-size="24.5">MEgreenyellow</text>
<text transform="translate(1582.47 820.5) scale(1 1.03)" font-size="24.5">0.21</text>
<text transform="translate(1563.63 840.5) scale(1 1.03)" font-size="24.5">(7e−10)</text>
<rect x="1226.1" y="858.55" width="57.2" height="66.85" fill="#bebebe"/>
<rect x="1291" y="858.55" width="598" height="66.85" fill="#ffddd4"/>
<text transform="translate(1133.56 895.55) scale(1 1.03)" font-size="24.5">MEgrey</text>
<text transform="translate(1582.4 887.05) scale(1 1.03)" font-size="24.5">0.18</text>
<text transform="translate(1563.63 907.05) scale(1 1.03)" font-size="24.5">(2e−07)</text>
<rect x="1290.75" y="124.85" width="598.7" height="798.8" fill="none" stroke="#000" stroke-width="2.7"/>
<text transform="translate(1582.57 984.2) scale(1 1.03)" font-size="28.5">CRC</text>
<rect x="1913" y="172.5" width="25" height="14.46" fill="#ff3300"/>
<rect x="1913" y="186.56" width="25" height="14.46" fill="#ff3c0b"/>
<rect x="1913" y="200.62" width="25" height="14.46" fill="#ff4415"/>
<rect x="1913" y="214.68" width="25" height="14.46" fill="#ff4c20"/>
<rect x="1913" y="228.74" width="25" height="14.46" fill="#ff552a"/>
<rect x="1913" y="242.8" width="25" height="14.46" fill="#ff5e35"/>
<rect x="1913" y="256.86" width="25" height="14.46" fill="#ff6640"/>
<rect x="1913" y="270.92" width="25" height="14.46" fill="#ff6e4a"/>
<rect x="1913" y="284.98" width="25" height="14.46" fill="#ff7755"/>
<rect x="1913" y="299.04" width="25" height="14.46" fill="#ff8060"/>
<rect x="1913" y="313.1" width="25" height="14.46" fill="#ff886a"/>
<rect x="1913" y="327.16" width="25" height="14.46" fill="#ff9075"/>
<rect x="1913" y="341.22" width="25" height="14.46" fill="#ff9980"/>
<rect x="1913" y="355.28" width="25" height="14.46" fill="#ffa28a"/>
<rect x="1913" y="369.34" width="25" height="14.46" fill="#ffaa95"/>
<rect x="1913" y="383.4" width="25" height="14.46" fill="#ffb29f"/>
<rect x="1913" y="397.46" width="25" height="14.46" fill="#ffbbaa"/>
<rect x="1913" y="411.52" width="25" height="14.46" fill="#ffc4b5"/>
<rect x="1913" y="425.58" width="25" height="14.46" fill="#ffccbf"/>
<rect x="1913" y="439.64" width="25" height="14.46" fill="#ffd4ca"/>
<rect x="1913" y="453.7" width="25" height="14.46" fill="#ffddd4"/>
<rect x="1913" y="467.76" width="25" height="14.46" fill="#ffe6df"/>
<rect x="1913" y="481.82" width="25" height="14.46" fill="#ffeeea"/>
<rect x="1913" y="495.88" width="25" height="14.46" fill="#fff6f4"/>
<rect x="1913" y="509.94" width="25" height="14.46" fill="#ffffff"/>
<rect x="1913" y="524" width="25" height="14.46" fill="#ffffff"/>
<rect x="1913" y="538.06" width="25" height="14.46" fill="#f5faff"/>
<rect x="1913" y="552.12" width="25" height="14.46" fill="#ebf5ff"/>
<rect x="1913" y="566.18" width="25" height="14.46" fill="#e1f1ff"/>
<rect x="1913" y="580.24" width="25" height="14.46" fill="#d7ecff"/>
<rect x="1913" y="594.3" width="25" height="14.46" fill="#cde7ff"/>
<rect x="1913" y="608.36" width="25" height="14.46" fill="#c2e2ff"/>
<rect x="1913" y="622.42" width="25" height="14.46" fill="#b8deff"/>
<rect x="1913" y="636.48" width="25" height="14.46" fill="#aed9ff"/>
<rect x="1913" y="650.54" width="25" height="14.46" fill="#a4d4ff"/>
<rect x="1913" y="664.6" width="25" height="14.46" fill="#9acfff"/>
<rect x="1913" y="678.66" width="25" height="14.46" fill="#90caff"/>
<rect x="1913" y="692.72" width="25" height="14.46" fill="#86c6ff"/>
<rect x="1913" y="706.78" width="25" height="14.46" fill="#7cc1ff"/>
<rect x="1913" y="720.84" width="25" height="14.46" fill="#72bcff"/>
<rect x="1913" y="734.9" width="25" height="14.46" fill="#68b7ff"/>
<rect x="1913" y="748.96" width="25" height="14.46" fill="#5eb2ff"/>
<rect x="1913" y="763.02" width="25" height="14.46" fill="#53aeff"/>
<rect x="1913" y="777.08" width="25" height="14.46" fill="#49a9ff"/>
<rect x="1913" y="791.14" width="25" height="14.46" fill="#3fa4ff"/>
<rect x="1913" y="805.2" width="25" height="14.46" fill="#359fff"/>
<rect x="1913" y="819.26" width="25" height="14.46" fill="#2b9bff"/>
<rect x="1913" y="833.32" width="25" height="14.46" fill="#2196ff"/>
<rect x="1913" y="847.38" width="25" height="14.46" fill="#1791ff"/>
<rect x="1913" y="861.44" width="25" height="14.46" fill="#0d8cff"/>
<rect x="1912.6" y="172.5" width="26.2" height="703" fill="none" stroke="#000" stroke-width="2.7"/>
<path d="M1938.8 172.5H1958.5M1938.8 348.25H1958.5M1938.8 524H1958.5M1938.8 699.75H1958.5M1938.8 875.5H1958.5" stroke="#000" stroke-width="2.7" stroke-linecap="round"/>
<text transform="translate(1972.06 179) scale(1 1.03)" font-size="24.5">1</text>
<text transform="translate(1962.17 354.75) scale(1 1.03)" font-size="24.5">0.5</text>
<text transform="translate(1972.37 530.5) scale(1 1.03)" font-size="24.5">0</text>
<text transform="translate(1954.91 706.25) scale(1 1.03)" font-size="24.5">−0.5</text>
<text transform="translate(1965.2 882) scale(1 1.03)" font-size="24.5">−1</text>
</svg>
</body></html>
